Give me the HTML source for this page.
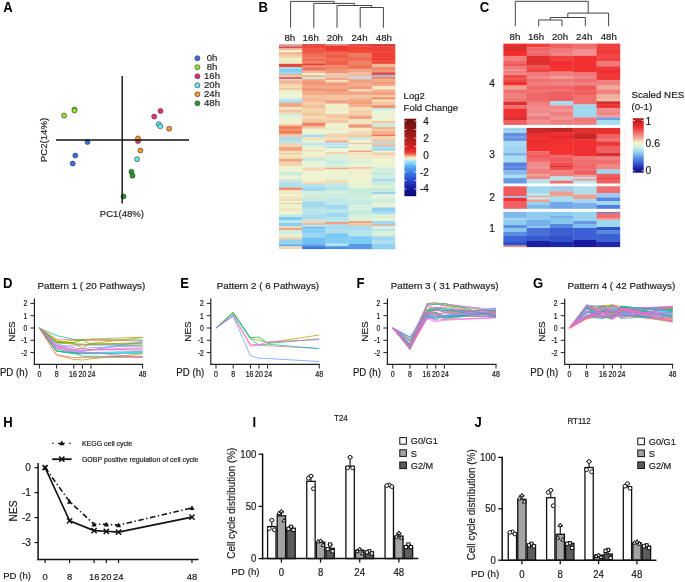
<!DOCTYPE html>
<html><head><meta charset="utf-8"><style>
html,body{margin:0;padding:0;background:#fff;}
svg{display:block;font-family:"Liberation Sans",sans-serif;will-change:transform;}
</style></head><body>
<svg width="685" height="582" viewBox="0 0 685 582">
<rect width="685" height="582" fill="#fff"/>
<text transform="translate(3.20,12.20) scale(0.97,1.15)" font-size="13.5" text-anchor="start" font-weight="bold" fill="#000" >A</text>
<text transform="translate(258.40,12.20) scale(0.97,1.15)" font-size="13.5" text-anchor="start" font-weight="bold" fill="#000" >B</text>
<text transform="translate(479.80,12.20) scale(0.97,1.15)" font-size="13.5" text-anchor="start" font-weight="bold" fill="#000" >C</text>
<text transform="translate(3.00,287.60) scale(0.97,1.15)" font-size="13.5" text-anchor="start" font-weight="bold" fill="#000" >D</text>
<text transform="translate(180.20,287.60) scale(0.97,1.15)" font-size="13.5" text-anchor="start" font-weight="bold" fill="#000" >E</text>
<text transform="translate(356.50,287.60) scale(0.97,1.15)" font-size="13.5" text-anchor="start" font-weight="bold" fill="#000" >F</text>
<text transform="translate(533.00,287.60) scale(0.97,1.15)" font-size="13.5" text-anchor="start" font-weight="bold" fill="#000" >G</text>
<text transform="translate(3.20,426.80) scale(0.97,1.15)" font-size="13.5" text-anchor="start" font-weight="bold" fill="#000" >H</text>
<text transform="translate(252.50,426.80) scale(0.97,1.15)" font-size="13.5" text-anchor="start" font-weight="bold" fill="#000" >I</text>
<text transform="translate(474.40,426.80) scale(0.97,1.15)" font-size="13.5" text-anchor="start" font-weight="bold" fill="#000" >J</text>
<circle cx="64.1" cy="115.6" r="2.5" fill="#8ee82a" stroke="#333" stroke-width="0.6"/>
<circle cx="74.5" cy="109.6" r="2.5" fill="#8ee82a" stroke="#333" stroke-width="0.6"/>
<circle cx="74.5" cy="110.6" r="2.5" fill="#8ee82a" stroke="#333" stroke-width="0.6"/>
<circle cx="87.5" cy="142" r="2.5" fill="#3a6fe0" stroke="#333" stroke-width="0.6"/>
<circle cx="75.3" cy="155.6" r="2.5" fill="#3a6fe0" stroke="#333" stroke-width="0.6"/>
<circle cx="72.7" cy="163.6" r="2.5" fill="#3a6fe0" stroke="#333" stroke-width="0.6"/>
<circle cx="160.5" cy="110.9" r="2.5" fill="#e8307a" stroke="#333" stroke-width="0.6"/>
<circle cx="154.2" cy="116.6" r="2.5" fill="#e8307a" stroke="#333" stroke-width="0.6"/>
<circle cx="158.7" cy="124.2" r="2.5" fill="#66e8f0" stroke="#333" stroke-width="0.6"/>
<circle cx="160.3" cy="126.3" r="2.5" fill="#66e8f0" stroke="#333" stroke-width="0.6"/>
<circle cx="169.2" cy="128.7" r="2.5" fill="#f09a30" stroke="#333" stroke-width="0.6"/>
<circle cx="138" cy="141.1" r="2.5" fill="#e8307a" stroke="#333" stroke-width="0.6"/>
<circle cx="138" cy="138.4" r="2.5" fill="#f09a30" stroke="#333" stroke-width="0.6"/>
<circle cx="140.4" cy="150.5" r="2.5" fill="#f09a30" stroke="#333" stroke-width="0.6"/>
<circle cx="137.1" cy="159.2" r="2.5" fill="#66e8f0" stroke="#333" stroke-width="0.6"/>
<circle cx="131.4" cy="171.8" r="2.5" fill="#2a9a2a" stroke="#333" stroke-width="0.6"/>
<circle cx="132.5" cy="175.7" r="2.5" fill="#2a9a2a" stroke="#333" stroke-width="0.6"/>
<circle cx="123.5" cy="196.4" r="2.5" fill="#2a9a2a" stroke="#333" stroke-width="0.6"/>
<line x1="56" y1="140" x2="189" y2="140" stroke="#111" stroke-width="1.4" />
<line x1="122.2" y1="76" x2="122.2" y2="203.6" stroke="#111" stroke-width="1.4" />
<circle cx="197.4" cy="58.2" r="2.5" fill="#3a6fe0" stroke="#333" stroke-width="0.6"/>
<text transform="translate(212.00,60.80) scale(1.0,0.95)" font-size="9.6" text-anchor="middle" font-weight="normal" fill="#222" stroke="#222" stroke-width="0.18" >0h</text>
<circle cx="197.4" cy="67.2" r="2.5" fill="#8ee82a" stroke="#333" stroke-width="0.6"/>
<text transform="translate(212.00,69.83) scale(1.0,0.95)" font-size="9.6" text-anchor="middle" font-weight="normal" fill="#222" stroke="#222" stroke-width="0.18" >8h</text>
<circle cx="197.4" cy="76.3" r="2.5" fill="#e8307a" stroke="#333" stroke-width="0.6"/>
<text transform="translate(212.00,78.86) scale(1.0,0.95)" font-size="9.6" text-anchor="middle" font-weight="normal" fill="#222" stroke="#222" stroke-width="0.18" >16h</text>
<circle cx="197.4" cy="85.3" r="2.5" fill="#66e8f0" stroke="#333" stroke-width="0.6"/>
<text transform="translate(212.00,87.89) scale(1.0,0.95)" font-size="9.6" text-anchor="middle" font-weight="normal" fill="#222" stroke="#222" stroke-width="0.18" >20h</text>
<circle cx="197.4" cy="94.3" r="2.5" fill="#f09a30" stroke="#333" stroke-width="0.6"/>
<text transform="translate(212.00,96.92) scale(1.0,0.95)" font-size="9.6" text-anchor="middle" font-weight="normal" fill="#222" stroke="#222" stroke-width="0.18" >24h</text>
<circle cx="197.4" cy="103.3" r="2.5" fill="#2a9a2a" stroke="#333" stroke-width="0.6"/>
<text transform="translate(212.00,105.95) scale(1.0,0.95)" font-size="9.6" text-anchor="middle" font-weight="normal" fill="#222" stroke="#222" stroke-width="0.18" >48h</text>
<text transform="translate(121.90,216.50)" font-size="9.6" text-anchor="middle" font-weight="normal" fill="#222" stroke="#222" stroke-width="0.18" >PC1(48%)</text>
<text transform="translate(46.60,140.00) rotate(-90)" font-size="9.6" text-anchor="middle" font-weight="normal" fill="#222" stroke="#222" stroke-width="0.18" >PC2(14%)</text>
<path d="M360.2,27.7 L360.2,7.5 M360.2,7.5 L383.4,7.5 M383.4,7.5 L383.4,27.7 M337.0,27.7 L337.0,5.5 M337.0,5.5 L371.79999999999995,5.5 M371.79999999999995,5.5 L371.79999999999995,7.5 M313.8,27.7 L313.8,3.4 M313.8,3.4 L354.4,3.4 M354.4,3.4 L354.4,5.5 M290.6,27.7 L290.6,1.4 M290.6,1.4 L334.1,1.4 M334.1,1.4 L334.1,3.4" stroke="#444" stroke-width="1" fill="none"/>
<text transform="translate(289.80,41.00)" font-size="9.7" text-anchor="middle" font-weight="normal" fill="#1a1a1a" stroke="#1a1a1a" stroke-width="0.18" >8h</text>
<text transform="translate(310.70,41.00)" font-size="9.7" text-anchor="middle" font-weight="normal" fill="#1a1a1a" stroke="#1a1a1a" stroke-width="0.18" >16h</text>
<text transform="translate(334.90,41.00)" font-size="9.7" text-anchor="middle" font-weight="normal" fill="#1a1a1a" stroke="#1a1a1a" stroke-width="0.18" >20h</text>
<text transform="translate(359.50,41.00)" font-size="9.7" text-anchor="middle" font-weight="normal" fill="#1a1a1a" stroke="#1a1a1a" stroke-width="0.18" >24h</text>
<text transform="translate(383.90,41.00)" font-size="9.7" text-anchor="middle" font-weight="normal" fill="#1a1a1a" stroke="#1a1a1a" stroke-width="0.18" >48h</text>
<path d="M538.7,26.3 L538.7,20 M538.7,20 L562.0,20 M562.0,20 L562.0,26.3 M550.35,20 L550.35,17.5 M550.35,17.5 L585.3,17.5 M585.3,17.5 L585.3,26.3 M567.825,17.5 L567.825,13.1 M567.825,13.1 L608.6,13.1 M608.6,13.1 L608.6,26.3 M588.2125000000001,13.1 L588.2125000000001,1.3 M515.3,1.3 L588.2125000000001,1.3 M515.3,1.3 L515.3,26.3" stroke="#444" stroke-width="1" fill="none"/>
<text transform="translate(514.90,40.20)" font-size="9.7" text-anchor="middle" font-weight="normal" fill="#1a1a1a" stroke="#1a1a1a" stroke-width="0.18" >8h</text>
<text transform="translate(536.00,40.20)" font-size="9.7" text-anchor="middle" font-weight="normal" fill="#1a1a1a" stroke="#1a1a1a" stroke-width="0.18" >16h</text>
<text transform="translate(560.00,40.20)" font-size="9.7" text-anchor="middle" font-weight="normal" fill="#1a1a1a" stroke="#1a1a1a" stroke-width="0.18" >20h</text>
<text transform="translate(584.20,40.20)" font-size="9.7" text-anchor="middle" font-weight="normal" fill="#1a1a1a" stroke="#1a1a1a" stroke-width="0.18" >24h</text>
<text transform="translate(608.80,40.20)" font-size="9.7" text-anchor="middle" font-weight="normal" fill="#1a1a1a" stroke="#1a1a1a" stroke-width="0.18" >48h</text>
<rect x="279.00" y="44.1" width="23.50" height="1.40" fill="#f0a0a0"/>
<rect x="279.00" y="45.2" width="23.50" height="1.90" fill="#b89aa8"/>
<rect x="279.00" y="46.8" width="23.50" height="1.70" fill="#e8483a"/>
<rect x="279.00" y="48.2" width="23.50" height="2.10" fill="#f4b494"/>
<rect x="279.00" y="50" width="23.50" height="2.60" fill="#eef2d0"/>
<rect x="279.00" y="52.3" width="23.50" height="2.00" fill="#f2ae8c"/>
<rect x="279.00" y="54" width="23.50" height="2.30" fill="#f4c8a0"/>
<rect x="279.00" y="56" width="23.50" height="2.30" fill="#f4d8ac"/>
<rect x="279.00" y="58" width="23.50" height="2.80" fill="#ecf0cc"/>
<rect x="279.00" y="60.5" width="23.50" height="1.80" fill="#f0e4c0"/>
<rect x="279.00" y="62" width="23.50" height="2.10" fill="#eaf0cc"/>
<rect x="279.00" y="63.8" width="23.50" height="3.60" fill="#e84838"/>
<rect x="279.00" y="67.1" width="23.50" height="1.70" fill="#a8dcf0"/>
<rect x="279.00" y="68.5" width="23.50" height="3.80" fill="#88d0f0"/>
<rect x="279.00" y="72" width="23.50" height="2.30" fill="#9cd8f0"/>
<rect x="279.00" y="74" width="23.50" height="1.90" fill="#f0b090"/>
<rect x="279.00" y="75.6" width="23.50" height="1.90" fill="#dcd4c0"/>
<rect x="279.00" y="77.2" width="23.50" height="1.90" fill="#e84838"/>
<rect x="279.00" y="78.8" width="23.50" height="1.90" fill="#d0dcd8"/>
<rect x="279.00" y="80.4" width="23.50" height="2.90" fill="#f2b494"/>
<rect x="279.00" y="83" width="23.50" height="2.50" fill="#f4c8a4"/>
<rect x="279.00" y="85.2" width="23.50" height="3.10" fill="#f4dcb0"/>
<rect x="279.00" y="88" width="23.50" height="2.70" fill="#f2c8a0"/>
<rect x="279.00" y="90.4" width="23.50" height="4.90" fill="#eaf4d4"/>
<rect x="279.00" y="95" width="23.50" height="3.70" fill="#eef4d4"/>
<rect x="279.00" y="98.4" width="23.50" height="2.40" fill="#c0e8e8"/>
<rect x="279.00" y="100.5" width="23.50" height="2.60" fill="#a8dcf0"/>
<rect x="279.00" y="102.8" width="23.50" height="4.50" fill="#f2a884"/>
<rect x="279.00" y="107" width="23.50" height="2.90" fill="#f0e8c0"/>
<rect x="279.00" y="109.6" width="23.50" height="2.70" fill="#f4c4a0"/>
<rect x="279.00" y="112" width="23.50" height="2.30" fill="#f4d4b0"/>
<rect x="279.00" y="114" width="23.50" height="3.30" fill="#d4f0e0"/>
<rect x="279.00" y="117" width="23.50" height="4.10" fill="#eef2d0"/>
<rect x="279.00" y="120.8" width="23.50" height="3.80" fill="#f0f0cc"/>
<rect x="279.00" y="124.3" width="23.50" height="2.00" fill="#f4c4a0"/>
<rect x="279.00" y="126" width="23.50" height="3.30" fill="#f08060"/>
<rect x="279.00" y="129" width="23.50" height="2.30" fill="#f2946e"/>
<rect x="279.00" y="131" width="23.50" height="3.10" fill="#f07a5c"/>
<rect x="279.00" y="133.8" width="23.50" height="3.70" fill="#f4c8a4"/>
<rect x="279.00" y="137.2" width="23.50" height="3.10" fill="#a8dcec"/>
<rect x="279.00" y="140" width="23.50" height="3.50" fill="#b8e4ec"/>
<rect x="279.00" y="143.2" width="23.50" height="4.10" fill="#f4d4b0"/>
<rect x="279.00" y="147" width="23.50" height="4.10" fill="#f2a480"/>
<rect x="279.00" y="150.8" width="23.50" height="2.50" fill="#f4e0b8"/>
<rect x="279.00" y="153" width="23.50" height="2.30" fill="#f4d0a8"/>
<rect x="279.00" y="155" width="23.50" height="2.30" fill="#f0ecc4"/>
<rect x="279.00" y="157" width="23.50" height="2.30" fill="#f4d4ac"/>
<rect x="279.00" y="159" width="23.50" height="2.90" fill="#f2a484"/>
<rect x="279.00" y="161.6" width="23.50" height="4.70" fill="#f4d4b0"/>
<rect x="279.00" y="166" width="23.50" height="6.30" fill="#eef4d0"/>
<rect x="279.00" y="172" width="23.50" height="3.70" fill="#c8ecdc"/>
<rect x="279.00" y="175.4" width="23.50" height="4.60" fill="#eef2d0"/>
<rect x="279.00" y="179.7" width="23.50" height="3.60" fill="#c0e6e8"/>
<rect x="279.00" y="183" width="23.50" height="4.80" fill="#b0e0ee"/>
<rect x="279.00" y="187.5" width="23.50" height="2.80" fill="#f29070"/>
<rect x="279.00" y="190" width="23.50" height="4.30" fill="#f2e8c4"/>
<rect x="279.00" y="194" width="23.50" height="3.30" fill="#eef2d0"/>
<rect x="279.00" y="197" width="23.50" height="1.30" fill="#f4dcb4"/>
<rect x="279.00" y="198" width="23.50" height="1.80" fill="#f0ecc8"/>
<rect x="279.00" y="199.5" width="23.50" height="1.40" fill="#f4c8a0"/>
<rect x="279.00" y="200.6" width="23.50" height="2.70" fill="#eef4d0"/>
<rect x="279.00" y="203" width="23.50" height="1.30" fill="#f4c8a0"/>
<rect x="279.00" y="204" width="23.50" height="4.30" fill="#eef4d0"/>
<rect x="279.00" y="208" width="23.50" height="3.30" fill="#f0e8c4"/>
<rect x="279.00" y="211" width="23.50" height="3.70" fill="#eef4d0"/>
<rect x="279.00" y="214.4" width="23.50" height="2.90" fill="#c0e8e8"/>
<rect x="279.00" y="217" width="23.50" height="3.70" fill="#80ccf0"/>
<rect x="279.00" y="220.4" width="23.50" height="2.90" fill="#c0e8e8"/>
<rect x="279.00" y="223" width="23.50" height="3.70" fill="#88d0f0"/>
<rect x="279.00" y="226.4" width="23.50" height="2.00" fill="#f2dcb8"/>
<rect x="279.00" y="228.1" width="23.50" height="2.10" fill="#f29a78"/>
<rect x="279.00" y="229.9" width="23.50" height="4.40" fill="#d0ecdc"/>
<rect x="279.00" y="234" width="23.50" height="3.90" fill="#e8f0d0"/>
<rect x="279.00" y="237.6" width="23.50" height="2.00" fill="#f4c8a0"/>
<rect x="279.00" y="239.3" width="23.50" height="5.50" fill="#98d4f0"/>
<rect x="279.00" y="244.5" width="23.50" height="2.00" fill="#60a8e8"/>
<rect x="279.00" y="246.2" width="23.50" height="2.90" fill="#f0d8b8"/>
<rect x="302.20" y="44.1" width="23.50" height="1.80" fill="#d84040"/>
<rect x="302.20" y="45.6" width="23.50" height="2.70" fill="#ee4838"/>
<rect x="302.20" y="48" width="23.50" height="1.80" fill="#f05a48"/>
<rect x="302.20" y="49.5" width="23.50" height="2.40" fill="#ee4838"/>
<rect x="302.20" y="51.6" width="23.50" height="2.70" fill="#f06050"/>
<rect x="302.20" y="54" width="23.50" height="3.10" fill="#f07258"/>
<rect x="302.20" y="56.8" width="23.50" height="2.50" fill="#f07a60"/>
<rect x="302.20" y="59" width="23.50" height="2.80" fill="#f06a54"/>
<rect x="302.20" y="61.5" width="23.50" height="2.50" fill="#f08266"/>
<rect x="302.20" y="63.7" width="23.50" height="2.00" fill="#e83c30"/>
<rect x="302.20" y="65.4" width="23.50" height="2.40" fill="#f08a6c"/>
<rect x="302.20" y="67.5" width="23.50" height="3.40" fill="#f07060"/>
<rect x="302.20" y="70.6" width="23.50" height="2.80" fill="#f4b898"/>
<rect x="302.20" y="73.1" width="23.50" height="2.20" fill="#eef0d0"/>
<rect x="302.20" y="75" width="23.50" height="2.70" fill="#f4b898"/>
<rect x="302.20" y="77.4" width="23.50" height="2.10" fill="#c8ecdc"/>
<rect x="302.20" y="79.2" width="23.50" height="3.10" fill="#f2a080"/>
<rect x="302.20" y="82" width="23.50" height="3.30" fill="#f2946e"/>
<rect x="302.20" y="85" width="23.50" height="3.30" fill="#f2a888"/>
<rect x="302.20" y="88" width="23.50" height="3.30" fill="#f29878"/>
<rect x="302.20" y="91" width="23.50" height="4.30" fill="#f2ac8c"/>
<rect x="302.20" y="95" width="23.50" height="3.30" fill="#f4c4a0"/>
<rect x="302.20" y="98" width="23.50" height="4.20" fill="#f4b898"/>
<rect x="302.20" y="101.9" width="23.50" height="3.40" fill="#f4d0a8"/>
<rect x="302.20" y="105" width="23.50" height="3.30" fill="#f4c09c"/>
<rect x="302.20" y="108" width="23.50" height="4.50" fill="#f4d4ac"/>
<rect x="302.20" y="112.2" width="23.50" height="4.10" fill="#f4c8a0"/>
<rect x="302.20" y="116" width="23.50" height="3.30" fill="#f4dcb4"/>
<rect x="302.20" y="119" width="23.50" height="3.90" fill="#f4c8a0"/>
<rect x="302.20" y="122.6" width="23.50" height="3.70" fill="#f08868"/>
<rect x="302.20" y="126" width="23.50" height="2.90" fill="#f4c4a0"/>
<rect x="302.20" y="128.6" width="23.50" height="6.30" fill="#eef4d0"/>
<rect x="302.20" y="134.6" width="23.50" height="2.90" fill="#a8dcf0"/>
<rect x="302.20" y="137.2" width="23.50" height="3.10" fill="#f0e0bc"/>
<rect x="302.20" y="140" width="23.50" height="2.70" fill="#eef0d0"/>
<rect x="302.20" y="142.4" width="23.50" height="2.90" fill="#c0e4e8"/>
<rect x="302.20" y="145" width="23.50" height="2.30" fill="#d4eee0"/>
<rect x="302.20" y="147" width="23.50" height="3.30" fill="#eef2d0"/>
<rect x="302.20" y="150" width="23.50" height="1.80" fill="#f4dcb4"/>
<rect x="302.20" y="151.5" width="23.50" height="3.80" fill="#eef2d0"/>
<rect x="302.20" y="155" width="23.50" height="3.50" fill="#f0ecc8"/>
<rect x="302.20" y="158.2" width="23.50" height="2.90" fill="#c0e8e4"/>
<rect x="302.20" y="160.8" width="23.50" height="7.20" fill="#e8f4d8"/>
<rect x="302.20" y="167.7" width="23.50" height="3.70" fill="#f4dcb4"/>
<rect x="302.20" y="171.1" width="23.50" height="10.70" fill="#eef4d4"/>
<rect x="302.20" y="181.5" width="23.50" height="2.80" fill="#f4dcb4"/>
<rect x="302.20" y="184" width="23.50" height="3.30" fill="#b8e2ea"/>
<rect x="302.20" y="187" width="23.50" height="4.30" fill="#a0d8f0"/>
<rect x="302.20" y="191" width="23.50" height="7.30" fill="#d4eee0"/>
<rect x="302.20" y="198" width="23.50" height="3.70" fill="#c8ecdc"/>
<rect x="302.20" y="201.4" width="23.50" height="6.40" fill="#a0d8f0"/>
<rect x="302.20" y="207.5" width="23.50" height="7.20" fill="#b8e4ec"/>
<rect x="302.20" y="214.4" width="23.50" height="5.40" fill="#a8dcf0"/>
<rect x="302.20" y="219.5" width="23.50" height="3.80" fill="#e0dcc8"/>
<rect x="302.20" y="223" width="23.50" height="2.00" fill="#f4b898"/>
<rect x="302.20" y="224.7" width="23.50" height="2.90" fill="#b8e4ec"/>
<rect x="302.20" y="227.3" width="23.50" height="1.30" fill="#5098e8"/>
<rect x="302.20" y="228.3" width="23.50" height="5.00" fill="#88cff4"/>
<rect x="302.20" y="233" width="23.50" height="4.90" fill="#98d6f2"/>
<rect x="302.20" y="237.6" width="23.50" height="7.20" fill="#70c0f4"/>
<rect x="302.20" y="244.5" width="23.50" height="2.00" fill="#5ca0ec"/>
<rect x="302.20" y="246.2" width="23.50" height="2.90" fill="#3878e0"/>
<rect x="325.40" y="44.1" width="23.50" height="1.80" fill="#d09090"/>
<rect x="325.40" y="45.6" width="23.50" height="6.30" fill="#f03830"/>
<rect x="325.40" y="51.6" width="23.50" height="3.70" fill="#f06850"/>
<rect x="325.40" y="55" width="23.50" height="3.30" fill="#f05a46"/>
<rect x="325.40" y="58" width="23.50" height="3.30" fill="#f06e56"/>
<rect x="325.40" y="61" width="23.50" height="4.70" fill="#f06048"/>
<rect x="325.40" y="65.4" width="23.50" height="3.90" fill="#f08468"/>
<rect x="325.40" y="69" width="23.50" height="4.40" fill="#f09474"/>
<rect x="325.40" y="73.1" width="23.50" height="4.60" fill="#e8c8b0"/>
<rect x="325.40" y="77.4" width="23.50" height="2.90" fill="#f2a888"/>
<rect x="325.40" y="80" width="23.50" height="2.60" fill="#f4e0b8"/>
<rect x="325.40" y="82.3" width="23.50" height="4.00" fill="#f29a7c"/>
<rect x="325.40" y="86" width="23.50" height="3.30" fill="#f2a888"/>
<rect x="325.40" y="89" width="23.50" height="3.30" fill="#f29676"/>
<rect x="325.40" y="92" width="23.50" height="3.30" fill="#f2aa8a"/>
<rect x="325.40" y="95" width="23.50" height="5.50" fill="#f4c4a0"/>
<rect x="325.40" y="100.2" width="23.50" height="3.70" fill="#f2a080"/>
<rect x="325.40" y="103.6" width="23.50" height="4.70" fill="#f0f0cc"/>
<rect x="325.40" y="108" width="23.50" height="2.30" fill="#f4e8c0"/>
<rect x="325.40" y="110" width="23.50" height="4.30" fill="#eef2cc"/>
<rect x="325.40" y="114" width="23.50" height="4.30" fill="#f4c8a4"/>
<rect x="325.40" y="118" width="23.50" height="2.30" fill="#f4d4ac"/>
<rect x="325.40" y="120" width="23.50" height="3.70" fill="#f4c8a4"/>
<rect x="325.40" y="123.4" width="23.50" height="4.90" fill="#eef4d0"/>
<rect x="325.40" y="128" width="23.50" height="2.30" fill="#f0eccc"/>
<rect x="325.40" y="130" width="23.50" height="4.10" fill="#eef4d0"/>
<rect x="325.40" y="133.8" width="23.50" height="3.50" fill="#f4d0b0"/>
<rect x="325.40" y="137" width="23.50" height="3.90" fill="#f4dcb8"/>
<rect x="325.40" y="140.6" width="23.50" height="2.10" fill="#f2a888"/>
<rect x="325.40" y="142.4" width="23.50" height="2.90" fill="#b8e4ec"/>
<rect x="325.40" y="145" width="23.50" height="2.30" fill="#c8ecec"/>
<rect x="325.40" y="147" width="23.50" height="1.30" fill="#a0d8f0"/>
<rect x="325.40" y="148" width="23.50" height="4.30" fill="#eef4d4"/>
<rect x="325.40" y="152" width="23.50" height="2.30" fill="#f4d4ac"/>
<rect x="325.40" y="154" width="23.50" height="6.30" fill="#d8f0dc"/>
<rect x="325.40" y="160" width="23.50" height="4.30" fill="#cceee4"/>
<rect x="325.40" y="164" width="23.50" height="4.00" fill="#d8f0dc"/>
<rect x="325.40" y="167.7" width="23.50" height="2.00" fill="#f2a888"/>
<rect x="325.40" y="169.4" width="23.50" height="5.90" fill="#eef4d0"/>
<rect x="325.40" y="175" width="23.50" height="5.00" fill="#e8f4d4"/>
<rect x="325.40" y="179.7" width="23.50" height="3.80" fill="#f4dcb8"/>
<rect x="325.40" y="183.2" width="23.50" height="4.10" fill="#c0e8e4"/>
<rect x="325.40" y="187" width="23.50" height="3.30" fill="#b4e2ea"/>
<rect x="325.40" y="190" width="23.50" height="8.30" fill="#d0ecdc"/>
<rect x="325.40" y="198" width="23.50" height="7.30" fill="#c0e8e8"/>
<rect x="325.40" y="205" width="23.50" height="4.30" fill="#a0d8f0"/>
<rect x="325.40" y="209" width="23.50" height="4.30" fill="#b8e4ec"/>
<rect x="325.40" y="213" width="23.50" height="4.30" fill="#a0d8f0"/>
<rect x="325.40" y="217" width="23.50" height="5.30" fill="#b8e4ec"/>
<rect x="325.40" y="222" width="23.50" height="2.60" fill="#f0a080"/>
<rect x="325.40" y="224.3" width="23.50" height="5.00" fill="#a8dcf0"/>
<rect x="325.40" y="229" width="23.50" height="4.60" fill="#b4e0ee"/>
<rect x="325.40" y="233.3" width="23.50" height="3.80" fill="#78c8f4"/>
<rect x="325.40" y="236.8" width="23.50" height="7.10" fill="#80ccf4"/>
<rect x="325.40" y="243.6" width="23.50" height="2.90" fill="#b8e4ec"/>
<rect x="325.40" y="246.2" width="23.50" height="2.90" fill="#4c90e8"/>
<rect x="348.60" y="44.1" width="23.50" height="2.60" fill="#e84040"/>
<rect x="348.60" y="46.4" width="23.50" height="3.90" fill="#f04434"/>
<rect x="348.60" y="50" width="23.50" height="3.60" fill="#f04a3a"/>
<rect x="348.60" y="53.3" width="23.50" height="4.00" fill="#f07a60"/>
<rect x="348.60" y="57" width="23.50" height="4.30" fill="#f06a54"/>
<rect x="348.60" y="61" width="23.50" height="4.30" fill="#f08468"/>
<rect x="348.60" y="65" width="23.50" height="4.10" fill="#f07258"/>
<rect x="348.60" y="68.8" width="23.50" height="3.80" fill="#f2a486"/>
<rect x="348.60" y="72.3" width="23.50" height="4.60" fill="#f4bc9c"/>
<rect x="348.60" y="76.6" width="23.50" height="2.90" fill="#c8d8e0"/>
<rect x="348.60" y="79.2" width="23.50" height="4.10" fill="#f2a080"/>
<rect x="348.60" y="83" width="23.50" height="3.30" fill="#f2b090"/>
<rect x="348.60" y="86" width="23.50" height="3.80" fill="#f29c7c"/>
<rect x="348.60" y="89.5" width="23.50" height="2.00" fill="#f4e4c0"/>
<rect x="348.60" y="91.2" width="23.50" height="4.10" fill="#f2a888"/>
<rect x="348.60" y="95" width="23.50" height="3.70" fill="#f4c4a0"/>
<rect x="348.60" y="98.4" width="23.50" height="3.90" fill="#f2a884"/>
<rect x="348.60" y="102" width="23.50" height="2.30" fill="#f29c7c"/>
<rect x="348.60" y="104" width="23.50" height="3.30" fill="#f2b08c"/>
<rect x="348.60" y="107" width="23.50" height="4.30" fill="#f4dcb4"/>
<rect x="348.60" y="111" width="23.50" height="5.00" fill="#f4d0a8"/>
<rect x="348.60" y="115.7" width="23.50" height="3.70" fill="#f2a484"/>
<rect x="348.60" y="119.1" width="23.50" height="5.50" fill="#f0e8c4"/>
<rect x="348.60" y="124.3" width="23.50" height="3.70" fill="#f09878"/>
<rect x="348.60" y="127.7" width="23.50" height="3.60" fill="#f0ecc8"/>
<rect x="348.60" y="131" width="23.50" height="3.90" fill="#f4dcb4"/>
<rect x="348.60" y="134.6" width="23.50" height="2.70" fill="#f4c8a4"/>
<rect x="348.60" y="137" width="23.50" height="3.10" fill="#c8e8e0"/>
<rect x="348.60" y="139.8" width="23.50" height="0.50" fill="#d8eedc"/>
<rect x="348.60" y="140" width="23.50" height="3.10" fill="#eef2d0"/>
<rect x="348.60" y="142.8" width="23.50" height="1.40" fill="#f4c09c"/>
<rect x="348.60" y="143.9" width="23.50" height="7.00" fill="#eef2d0"/>
<rect x="348.60" y="150.6" width="23.50" height="1.70" fill="#f2a080"/>
<rect x="348.60" y="152" width="23.50" height="3.30" fill="#f4e4c0"/>
<rect x="348.60" y="155" width="23.50" height="4.60" fill="#f0ecc8"/>
<rect x="348.60" y="159.3" width="23.50" height="4.00" fill="#dcf0dc"/>
<rect x="348.60" y="163" width="23.50" height="4.30" fill="#e8f2d4"/>
<rect x="348.60" y="167" width="23.50" height="2.20" fill="#f4c8a4"/>
<rect x="348.60" y="168.9" width="23.50" height="8.00" fill="#f0eecc"/>
<rect x="348.60" y="176.6" width="23.50" height="5.70" fill="#eef4d0"/>
<rect x="348.60" y="182" width="23.50" height="6.50" fill="#e8f2d4"/>
<rect x="348.60" y="188.2" width="23.50" height="8.00" fill="#c8ecdc"/>
<rect x="348.60" y="195.9" width="23.50" height="4.40" fill="#d0eedc"/>
<rect x="348.60" y="200" width="23.50" height="5.30" fill="#c4eae4"/>
<rect x="348.60" y="205" width="23.50" height="5.30" fill="#d8f0dc"/>
<rect x="348.60" y="210" width="23.50" height="5.30" fill="#c8ecdc"/>
<rect x="348.60" y="215" width="23.50" height="6.30" fill="#d8f0dc"/>
<rect x="348.60" y="221" width="23.50" height="2.50" fill="#f2a482"/>
<rect x="348.60" y="223.2" width="23.50" height="2.80" fill="#f4c8a4"/>
<rect x="348.60" y="225.7" width="23.50" height="4.60" fill="#a8dcf0"/>
<rect x="348.60" y="230" width="23.50" height="6.60" fill="#b8e4ec"/>
<rect x="348.60" y="236.3" width="23.50" height="8.00" fill="#80ccf4"/>
<rect x="348.60" y="244" width="23.50" height="5.10" fill="#5898e8"/>
<rect x="348.60" y="248.8" width="23.50" height="0.30" fill="#5898e8"/>
<rect x="371.80" y="44.1" width="23.50" height="2.60" fill="#d03838"/>
<rect x="371.80" y="46.4" width="23.50" height="4.90" fill="#ee4034"/>
<rect x="371.80" y="51" width="23.50" height="2.30" fill="#f04a3c"/>
<rect x="371.80" y="53" width="23.50" height="4.90" fill="#ee4034"/>
<rect x="371.80" y="57.6" width="23.50" height="2.70" fill="#f03c30"/>
<rect x="371.80" y="60" width="23.50" height="1.80" fill="#f05040"/>
<rect x="371.80" y="61.5" width="23.50" height="2.50" fill="#f03c30"/>
<rect x="371.80" y="63.7" width="23.50" height="3.70" fill="#f4b898"/>
<rect x="371.80" y="67.1" width="23.50" height="3.20" fill="#f08a70"/>
<rect x="371.80" y="70" width="23.50" height="2.60" fill="#f09a7c"/>
<rect x="371.80" y="72.3" width="23.50" height="2.90" fill="#ec4838"/>
<rect x="371.80" y="74.9" width="23.50" height="2.00" fill="#90c8f0"/>
<rect x="371.80" y="76.6" width="23.50" height="2.90" fill="#f08a70"/>
<rect x="371.80" y="79.2" width="23.50" height="3.10" fill="#f2ac8c"/>
<rect x="371.80" y="82" width="23.50" height="2.30" fill="#f29c7c"/>
<rect x="371.80" y="84" width="23.50" height="2.30" fill="#f2ac8c"/>
<rect x="371.80" y="86" width="23.50" height="3.80" fill="#f4e8c0"/>
<rect x="371.80" y="89.5" width="23.50" height="2.80" fill="#f2b090"/>
<rect x="371.80" y="92" width="23.50" height="3.30" fill="#f2a080"/>
<rect x="371.80" y="95" width="23.50" height="2.90" fill="#f4c8a4"/>
<rect x="371.80" y="97.6" width="23.50" height="2.00" fill="#f08060"/>
<rect x="371.80" y="99.3" width="23.50" height="3.00" fill="#f4dcb0"/>
<rect x="371.80" y="102" width="23.50" height="3.60" fill="#f4c8a0"/>
<rect x="371.80" y="105.3" width="23.50" height="2.90" fill="#f08a6c"/>
<rect x="371.80" y="107.9" width="23.50" height="2.90" fill="#c8ecec"/>
<rect x="371.80" y="110.5" width="23.50" height="3.80" fill="#eef4d0"/>
<rect x="371.80" y="114" width="23.50" height="3.30" fill="#e8f2d8"/>
<rect x="371.80" y="117" width="23.50" height="4.10" fill="#eef4d0"/>
<rect x="371.80" y="120.8" width="23.50" height="2.90" fill="#f4c8a4"/>
<rect x="371.80" y="123.4" width="23.50" height="3.80" fill="#c8ecdc"/>
<rect x="371.80" y="126.9" width="23.50" height="2.40" fill="#f4b090"/>
<rect x="371.80" y="129" width="23.50" height="2.30" fill="#f4c8a4"/>
<rect x="371.80" y="131" width="23.50" height="3.90" fill="#f4b090"/>
<rect x="371.80" y="134.6" width="23.50" height="2.00" fill="#f07858"/>
<rect x="371.80" y="136.3" width="23.50" height="2.50" fill="#f4dcb4"/>
<rect x="371.80" y="138.5" width="23.50" height="1.80" fill="#f4c8a4"/>
<rect x="371.80" y="140" width="23.50" height="1.80" fill="#f4c4a0"/>
<rect x="371.80" y="141.5" width="23.50" height="1.80" fill="#a8dcf0"/>
<rect x="371.80" y="143" width="23.50" height="2.50" fill="#f4c8a0"/>
<rect x="371.80" y="145.2" width="23.50" height="0.90" fill="#f2a080"/>
<rect x="371.80" y="145.8" width="23.50" height="3.20" fill="#b0e0ec"/>
<rect x="371.80" y="148.7" width="23.50" height="2.20" fill="#98d4f0"/>
<rect x="371.80" y="150.6" width="23.50" height="2.20" fill="#eef2d0"/>
<rect x="371.80" y="152.5" width="23.50" height="3.20" fill="#f4d0a8"/>
<rect x="371.80" y="155.4" width="23.50" height="3.20" fill="#f0e8c4"/>
<rect x="371.80" y="158.3" width="23.50" height="9.00" fill="#eef4d0"/>
<rect x="371.80" y="167" width="23.50" height="5.30" fill="#d4eee0"/>
<rect x="371.80" y="172" width="23.50" height="3.30" fill="#c8ecdc"/>
<rect x="371.80" y="175" width="23.50" height="3.80" fill="#d4eee0"/>
<rect x="371.80" y="178.5" width="23.50" height="3.20" fill="#a8dcf0"/>
<rect x="371.80" y="181.4" width="23.50" height="3.90" fill="#c8ecdc"/>
<rect x="371.80" y="185" width="23.50" height="3.30" fill="#e0f2d8"/>
<rect x="371.80" y="188" width="23.50" height="4.30" fill="#c8ecdc"/>
<rect x="371.80" y="192" width="23.50" height="2.30" fill="#98d4f0"/>
<rect x="371.80" y="194" width="23.50" height="5.30" fill="#e0f2d8"/>
<rect x="371.80" y="199" width="23.50" height="4.30" fill="#d0eedc"/>
<rect x="371.80" y="203" width="23.50" height="4.70" fill="#e8f2d4"/>
<rect x="371.80" y="207.4" width="23.50" height="3.90" fill="#90d0f0"/>
<rect x="371.80" y="211" width="23.50" height="3.50" fill="#a8dcf0"/>
<rect x="371.80" y="214.2" width="23.50" height="4.10" fill="#d8f0dc"/>
<rect x="371.80" y="218" width="23.50" height="3.30" fill="#e8f2d4"/>
<rect x="371.80" y="221" width="23.50" height="4.10" fill="#a0d8f0"/>
<rect x="371.80" y="224.8" width="23.50" height="1.20" fill="#f29070"/>
<rect x="371.80" y="225.7" width="23.50" height="3.60" fill="#d8f0dc"/>
<rect x="371.80" y="229" width="23.50" height="2.30" fill="#b8e4ec"/>
<rect x="371.80" y="231" width="23.50" height="5.60" fill="#d8f0dc"/>
<rect x="371.80" y="236.3" width="23.50" height="4.00" fill="#a0d8f0"/>
<rect x="371.80" y="240" width="23.50" height="4.30" fill="#b0e0ee"/>
<rect x="371.80" y="244" width="23.50" height="5.10" fill="#90d0f0"/>
<rect x="371.80" y="248.8" width="23.50" height="0.30" fill="#80c8f0"/>
<rect x="503.40" y="43.6" width="23.60" height="2.50" fill="#f03030"/>
<rect x="503.40" y="45.8" width="23.60" height="5.20" fill="#d83030"/>
<rect x="503.40" y="50.7" width="23.60" height="5.50" fill="#f42c2c"/>
<rect x="503.40" y="55.9" width="23.60" height="5.50" fill="#f08080"/>
<rect x="503.40" y="61.1" width="23.60" height="2.70" fill="#f06060"/>
<rect x="503.40" y="63.5" width="23.60" height="3.10" fill="#f05454"/>
<rect x="503.40" y="66.3" width="23.60" height="3.00" fill="#f07a7a"/>
<rect x="503.40" y="69" width="23.60" height="2.30" fill="#f09090"/>
<rect x="503.40" y="71" width="23.60" height="2.30" fill="#f07a7a"/>
<rect x="503.40" y="73" width="23.60" height="2.30" fill="#f08c8c"/>
<rect x="503.40" y="75" width="23.60" height="3.30" fill="#f04848"/>
<rect x="503.40" y="78" width="23.60" height="2.30" fill="#f05858"/>
<rect x="503.40" y="80" width="23.60" height="2.30" fill="#f04848"/>
<rect x="503.40" y="82" width="23.60" height="3.70" fill="#f03030"/>
<rect x="503.40" y="85.4" width="23.60" height="4.70" fill="#f0a090"/>
<rect x="503.40" y="89.8" width="23.60" height="3.50" fill="#f07070"/>
<rect x="503.40" y="93" width="23.60" height="1.30" fill="#f08080"/>
<rect x="503.40" y="94" width="23.60" height="4.30" fill="#f08080"/>
<rect x="503.40" y="98" width="23.60" height="4.10" fill="#f07878"/>
<rect x="503.40" y="101.8" width="23.60" height="3.80" fill="#d83030"/>
<rect x="503.40" y="105.3" width="23.60" height="3.80" fill="#f07070"/>
<rect x="503.40" y="108.8" width="23.60" height="8.10" fill="#f03030"/>
<rect x="503.40" y="116.6" width="23.60" height="3.70" fill="#d83030"/>
<rect x="503.40" y="120" width="23.60" height="8.20" fill="#f06060"/>
<rect x="503.40" y="127.9" width="23.60" height="5.40" fill="#a0d4f0"/>
<rect x="503.40" y="133" width="23.60" height="3.30" fill="#6890e0"/>
<rect x="503.40" y="136" width="23.60" height="2.30" fill="#7aa0e4"/>
<rect x="503.40" y="138" width="23.60" height="3.20" fill="#6890e0"/>
<rect x="503.40" y="140.9" width="23.60" height="5.40" fill="#a8dcf0"/>
<rect x="503.40" y="146" width="23.60" height="7.30" fill="#a0d4f0"/>
<rect x="503.40" y="153" width="23.60" height="2.90" fill="#80b0e8"/>
<rect x="503.40" y="155.6" width="23.60" height="7.20" fill="#a8dcf0"/>
<rect x="503.40" y="162.5" width="23.60" height="3.80" fill="#5880e0"/>
<rect x="503.40" y="166" width="23.60" height="2.30" fill="#6890e0"/>
<rect x="503.40" y="168" width="23.60" height="2.60" fill="#5880e0"/>
<rect x="503.40" y="170.3" width="23.60" height="4.70" fill="#88bcec"/>
<rect x="503.40" y="174.7" width="23.60" height="3.70" fill="#a8dcf0"/>
<rect x="503.40" y="178.1" width="23.60" height="8.50" fill="#6898e4"/>
<rect x="503.40" y="186.3" width="23.60" height="10.00" fill="#f05a5a"/>
<rect x="503.40" y="196" width="23.60" height="2.10" fill="#a0d0f0"/>
<rect x="503.40" y="197.8" width="23.60" height="4.00" fill="#f03030"/>
<rect x="503.40" y="201.5" width="23.60" height="10.80" fill="#f06060"/>
<rect x="503.40" y="212" width="23.60" height="6.30" fill="#80b8ec"/>
<rect x="503.40" y="218" width="23.60" height="1.80" fill="#a8dcf0"/>
<rect x="503.40" y="219.5" width="23.60" height="5.80" fill="#90ccf0"/>
<rect x="503.40" y="225" width="23.60" height="3.30" fill="#6090e0"/>
<rect x="503.40" y="228" width="23.60" height="4.30" fill="#88c8f0"/>
<rect x="503.40" y="232" width="23.60" height="4.30" fill="#5a8ce0"/>
<rect x="503.40" y="236" width="23.60" height="6.30" fill="#3c64d8"/>
<rect x="503.40" y="242" width="23.60" height="3.80" fill="#3050c8"/>
<rect x="503.40" y="245.5" width="23.60" height="1.60" fill="#f09080"/>
<rect x="526.70" y="43.6" width="23.60" height="3.90" fill="#f04040"/>
<rect x="526.70" y="47.2" width="23.60" height="4.10" fill="#f06868"/>
<rect x="526.70" y="51" width="23.60" height="2.30" fill="#f07474"/>
<rect x="526.70" y="53" width="23.60" height="3.20" fill="#f06868"/>
<rect x="526.70" y="55.9" width="23.60" height="4.40" fill="#e03030"/>
<rect x="526.70" y="60" width="23.60" height="2.30" fill="#d82c2c"/>
<rect x="526.70" y="62" width="23.60" height="3.80" fill="#e03030"/>
<rect x="526.70" y="65.5" width="23.60" height="3.80" fill="#f05050"/>
<rect x="526.70" y="69" width="23.60" height="3.70" fill="#f04444"/>
<rect x="526.70" y="72.4" width="23.60" height="3.90" fill="#f07878"/>
<rect x="526.70" y="76" width="23.60" height="3.30" fill="#f08888"/>
<rect x="526.70" y="79" width="23.60" height="3.30" fill="#f07070"/>
<rect x="526.70" y="82" width="23.60" height="3.70" fill="#f07c7c"/>
<rect x="526.70" y="85.4" width="23.60" height="4.90" fill="#f06868"/>
<rect x="526.70" y="90" width="23.60" height="3.30" fill="#f07474"/>
<rect x="526.70" y="93" width="23.60" height="1.30" fill="#f06060"/>
<rect x="526.70" y="94" width="23.60" height="8.10" fill="#f06868"/>
<rect x="526.70" y="101.8" width="23.60" height="3.50" fill="#f08080"/>
<rect x="526.70" y="105" width="23.60" height="4.90" fill="#f08a8a"/>
<rect x="526.70" y="109.6" width="23.60" height="3.70" fill="#f08888"/>
<rect x="526.70" y="113" width="23.60" height="3.30" fill="#f09a9a"/>
<rect x="526.70" y="116" width="23.60" height="4.30" fill="#f08080"/>
<rect x="526.70" y="120" width="23.60" height="8.20" fill="#f09090"/>
<rect x="526.70" y="127.9" width="23.60" height="5.40" fill="#c82828"/>
<rect x="526.70" y="133" width="23.60" height="4.30" fill="#e83030"/>
<rect x="526.70" y="137" width="23.60" height="4.30" fill="#f03030"/>
<rect x="526.70" y="141" width="23.60" height="2.30" fill="#e02c2c"/>
<rect x="526.70" y="143" width="23.60" height="3.30" fill="#f03030"/>
<rect x="526.70" y="146" width="23.60" height="5.50" fill="#f03030"/>
<rect x="526.70" y="151.2" width="23.60" height="4.10" fill="#f06868"/>
<rect x="526.70" y="155" width="23.60" height="3.30" fill="#f05a5a"/>
<rect x="526.70" y="158" width="23.60" height="3.90" fill="#f06868"/>
<rect x="526.70" y="161.6" width="23.60" height="4.70" fill="#f08888"/>
<rect x="526.70" y="166" width="23.60" height="3.30" fill="#f09090"/>
<rect x="526.70" y="169" width="23.60" height="5.10" fill="#f08080"/>
<rect x="526.70" y="173.8" width="23.60" height="2.50" fill="#f0a090"/>
<rect x="526.70" y="176" width="23.60" height="3.30" fill="#f08a8a"/>
<rect x="526.70" y="179" width="23.60" height="7.60" fill="#b8e0e8"/>
<rect x="526.70" y="186.3" width="23.60" height="7.00" fill="#a0d8f0"/>
<rect x="526.70" y="193" width="23.60" height="3.30" fill="#c0e4e8"/>
<rect x="526.70" y="196" width="23.60" height="1.30" fill="#f0a090"/>
<rect x="526.70" y="197" width="23.60" height="2.80" fill="#c0e4e8"/>
<rect x="526.70" y="199.5" width="23.60" height="2.80" fill="#f0a090"/>
<rect x="526.70" y="202" width="23.60" height="3.30" fill="#98d0f0"/>
<rect x="526.70" y="205" width="23.60" height="7.30" fill="#80b8ec"/>
<rect x="526.70" y="212" width="23.60" height="8.30" fill="#90ccf0"/>
<rect x="526.70" y="220" width="23.60" height="6.30" fill="#78b0ec"/>
<rect x="526.70" y="226" width="23.60" height="2.30" fill="#90ccf0"/>
<rect x="526.70" y="228" width="23.60" height="8.30" fill="#4870d8"/>
<rect x="526.70" y="236" width="23.60" height="5.30" fill="#3858d0"/>
<rect x="526.70" y="241" width="23.60" height="6.10" fill="#1a20a0"/>
<rect x="550.00" y="43.6" width="23.60" height="4.70" fill="#f06060"/>
<rect x="550.00" y="48" width="23.60" height="4.30" fill="#f07a7a"/>
<rect x="550.00" y="52" width="23.60" height="4.20" fill="#f08484"/>
<rect x="550.00" y="55.9" width="23.60" height="4.60" fill="#f04040"/>
<rect x="550.00" y="60.2" width="23.60" height="5.10" fill="#f03030"/>
<rect x="550.00" y="65" width="23.60" height="6.80" fill="#f43030"/>
<rect x="550.00" y="71.5" width="23.60" height="4.70" fill="#f08080"/>
<rect x="550.00" y="75.9" width="23.60" height="2.90" fill="#f0a090"/>
<rect x="550.00" y="78.5" width="23.60" height="3.80" fill="#f07878"/>
<rect x="550.00" y="82" width="23.60" height="3.70" fill="#f08484"/>
<rect x="550.00" y="85.4" width="23.60" height="3.90" fill="#f06666"/>
<rect x="550.00" y="89" width="23.60" height="3.30" fill="#f07070"/>
<rect x="550.00" y="92" width="23.60" height="2.30" fill="#f06060"/>
<rect x="550.00" y="94" width="23.60" height="7.30" fill="#f06060"/>
<rect x="550.00" y="101" width="23.60" height="4.60" fill="#a8dcf0"/>
<rect x="550.00" y="105.3" width="23.60" height="4.00" fill="#f08888"/>
<rect x="550.00" y="109" width="23.60" height="3.30" fill="#f09494"/>
<rect x="550.00" y="112" width="23.60" height="4.30" fill="#f08080"/>
<rect x="550.00" y="116" width="23.60" height="4.30" fill="#f09090"/>
<rect x="550.00" y="120" width="23.60" height="8.20" fill="#f08080"/>
<rect x="550.00" y="127.9" width="23.60" height="4.60" fill="#c02424"/>
<rect x="550.00" y="132.2" width="23.60" height="4.10" fill="#f02c2c"/>
<rect x="550.00" y="136" width="23.60" height="2.30" fill="#e02828"/>
<rect x="550.00" y="138" width="23.60" height="8.30" fill="#f03030"/>
<rect x="550.00" y="146" width="23.60" height="9.00" fill="#f43030"/>
<rect x="550.00" y="154.7" width="23.60" height="3.60" fill="#f06868"/>
<rect x="550.00" y="158" width="23.60" height="4.80" fill="#f05c5c"/>
<rect x="550.00" y="162.5" width="23.60" height="3.80" fill="#f05050"/>
<rect x="550.00" y="166" width="23.60" height="1.80" fill="#d83030"/>
<rect x="550.00" y="167.5" width="23.60" height="3.10" fill="#f05050"/>
<rect x="550.00" y="170.3" width="23.60" height="6.40" fill="#f08080"/>
<rect x="550.00" y="176.4" width="23.60" height="4.60" fill="#b8e4ec"/>
<rect x="550.00" y="180.7" width="23.60" height="5.90" fill="#f07070"/>
<rect x="550.00" y="186.3" width="23.60" height="5.20" fill="#a0d0f0"/>
<rect x="550.00" y="191.2" width="23.60" height="5.50" fill="#f0a090"/>
<rect x="550.00" y="196.4" width="23.60" height="5.90" fill="#a8dcf0"/>
<rect x="550.00" y="202" width="23.60" height="10.30" fill="#70a8e8"/>
<rect x="550.00" y="212" width="23.60" height="4.30" fill="#90ccf0"/>
<rect x="550.00" y="216" width="23.60" height="2.30" fill="#78b0ec"/>
<rect x="550.00" y="218" width="23.60" height="6.30" fill="#88c8f0"/>
<rect x="550.00" y="224" width="23.60" height="4.30" fill="#5888e0"/>
<rect x="550.00" y="228" width="23.60" height="8.30" fill="#3c60d4"/>
<rect x="550.00" y="236" width="23.60" height="6.30" fill="#3050c8"/>
<rect x="550.00" y="242" width="23.60" height="5.10" fill="#1c28a8"/>
<rect x="573.30" y="43.6" width="23.60" height="5.70" fill="#f07070"/>
<rect x="573.30" y="49" width="23.60" height="7.20" fill="#f09090"/>
<rect x="573.30" y="55.9" width="23.60" height="4.40" fill="#f03030"/>
<rect x="573.30" y="60" width="23.60" height="4.30" fill="#f43030"/>
<rect x="573.30" y="64" width="23.60" height="8.70" fill="#f03030"/>
<rect x="573.30" y="72.4" width="23.60" height="3.90" fill="#f07878"/>
<rect x="573.30" y="76" width="23.60" height="3.30" fill="#f08484"/>
<rect x="573.30" y="79" width="23.60" height="3.30" fill="#f07070"/>
<rect x="573.30" y="82" width="23.60" height="3.70" fill="#f08080"/>
<rect x="573.30" y="85.4" width="23.60" height="4.90" fill="#f05858"/>
<rect x="573.30" y="90" width="23.60" height="3.30" fill="#f06464"/>
<rect x="573.30" y="93" width="23.60" height="1.30" fill="#f05050"/>
<rect x="573.30" y="94" width="23.60" height="10.70" fill="#f07070"/>
<rect x="573.30" y="104.4" width="23.60" height="13.40" fill="#a0d8f0"/>
<rect x="573.30" y="117.5" width="23.60" height="3.80" fill="#f07878"/>
<rect x="573.30" y="121" width="23.60" height="7.20" fill="#f08080"/>
<rect x="573.30" y="127.9" width="23.60" height="6.40" fill="#e03030"/>
<rect x="573.30" y="134" width="23.60" height="5.50" fill="#c82828"/>
<rect x="573.30" y="139.2" width="23.60" height="7.10" fill="#f03030"/>
<rect x="573.30" y="146" width="23.60" height="10.70" fill="#f03030"/>
<rect x="573.30" y="156.4" width="23.60" height="3.90" fill="#f07878"/>
<rect x="573.30" y="160" width="23.60" height="3.70" fill="#f06c6c"/>
<rect x="573.30" y="163.4" width="23.60" height="4.90" fill="#f06868"/>
<rect x="573.30" y="168" width="23.60" height="3.30" fill="#f07070"/>
<rect x="573.30" y="171" width="23.60" height="4.00" fill="#f06060"/>
<rect x="573.30" y="174.7" width="23.60" height="2.60" fill="#f0a0a0"/>
<rect x="573.30" y="177" width="23.60" height="1.80" fill="#b8e0ea"/>
<rect x="573.30" y="178.5" width="23.60" height="2.50" fill="#f0a0a0"/>
<rect x="573.30" y="180.7" width="23.60" height="5.90" fill="#b8e8f0"/>
<rect x="573.30" y="186.3" width="23.60" height="8.60" fill="#b0dcec"/>
<rect x="573.30" y="194.6" width="23.60" height="4.70" fill="#f0a090"/>
<rect x="573.30" y="199" width="23.60" height="4.30" fill="#a8d8f0"/>
<rect x="573.30" y="203" width="23.60" height="9.30" fill="#78b0ec"/>
<rect x="573.30" y="212" width="23.60" height="9.30" fill="#98d4f0"/>
<rect x="573.30" y="221" width="23.60" height="3.30" fill="#6898e8"/>
<rect x="573.30" y="224" width="23.60" height="4.30" fill="#80c0f0"/>
<rect x="573.30" y="228" width="23.60" height="12.30" fill="#3c60d4"/>
<rect x="573.30" y="240" width="23.60" height="7.10" fill="#1818a0"/>
<rect x="596.60" y="43.6" width="23.60" height="6.70" fill="#f04040"/>
<rect x="596.60" y="50" width="23.60" height="4.30" fill="#f03838"/>
<rect x="596.60" y="54" width="23.60" height="4.30" fill="#f04848"/>
<rect x="596.60" y="58" width="23.60" height="3.40" fill="#f04040"/>
<rect x="596.60" y="61.1" width="23.60" height="5.50" fill="#f07878"/>
<rect x="596.60" y="66.3" width="23.60" height="4.00" fill="#f03838"/>
<rect x="596.60" y="70" width="23.60" height="3.30" fill="#e83030"/>
<rect x="596.60" y="73" width="23.60" height="7.50" fill="#f03838"/>
<rect x="596.60" y="80.2" width="23.60" height="5.50" fill="#f08080"/>
<rect x="596.60" y="85.4" width="23.60" height="4.70" fill="#f0a898"/>
<rect x="596.60" y="89.8" width="23.60" height="4.50" fill="#f08080"/>
<rect x="596.60" y="94" width="23.60" height="5.50" fill="#f0b0a0"/>
<rect x="596.60" y="99.2" width="23.60" height="2.40" fill="#f0c0a0"/>
<rect x="596.60" y="101.3" width="23.60" height="3.40" fill="#d03030"/>
<rect x="596.60" y="104.4" width="23.60" height="3.80" fill="#f03030"/>
<rect x="596.60" y="107.9" width="23.60" height="4.40" fill="#f09090"/>
<rect x="596.60" y="112" width="23.60" height="3.30" fill="#f08888"/>
<rect x="596.60" y="115" width="23.60" height="2.80" fill="#f0a0a0"/>
<rect x="596.60" y="117.5" width="23.60" height="2.80" fill="#70a0e8"/>
<rect x="596.60" y="120" width="23.60" height="8.20" fill="#a8dcf0"/>
<rect x="596.60" y="127.9" width="23.60" height="6.40" fill="#e83030"/>
<rect x="596.60" y="134" width="23.60" height="4.30" fill="#f06060"/>
<rect x="596.60" y="138" width="23.60" height="4.20" fill="#f07070"/>
<rect x="596.60" y="141.9" width="23.60" height="4.40" fill="#f03838"/>
<rect x="596.60" y="146" width="23.60" height="7.30" fill="#f06060"/>
<rect x="596.60" y="153" width="23.60" height="3.70" fill="#d83030"/>
<rect x="596.60" y="156.4" width="23.60" height="3.90" fill="#f08080"/>
<rect x="596.60" y="160" width="23.60" height="4.30" fill="#f07070"/>
<rect x="596.60" y="164" width="23.60" height="5.80" fill="#f08888"/>
<rect x="596.60" y="169.5" width="23.60" height="4.60" fill="#a0d8f0"/>
<rect x="596.60" y="173.8" width="23.60" height="3.50" fill="#f06060"/>
<rect x="596.60" y="177" width="23.60" height="3.30" fill="#f05050"/>
<rect x="596.60" y="180" width="23.60" height="6.60" fill="#f06060"/>
<rect x="596.60" y="186.3" width="23.60" height="7.00" fill="#f07070"/>
<rect x="596.60" y="193" width="23.60" height="4.80" fill="#a0c8f0"/>
<rect x="596.60" y="197.5" width="23.60" height="3.80" fill="#5888e0"/>
<rect x="596.60" y="201" width="23.60" height="4.30" fill="#a0d8f0"/>
<rect x="596.60" y="205" width="23.60" height="7.30" fill="#5080e0"/>
<rect x="596.60" y="212" width="23.60" height="1.30" fill="#5888e0"/>
<rect x="596.60" y="213" width="23.60" height="5.30" fill="#f07070"/>
<rect x="596.60" y="218" width="23.60" height="2.30" fill="#f0a0a0"/>
<rect x="596.60" y="220" width="23.60" height="7.30" fill="#a0d8f0"/>
<rect x="596.60" y="227" width="23.60" height="3.30" fill="#3050c8"/>
<rect x="596.60" y="230" width="23.60" height="4.30" fill="#5888e0"/>
<rect x="596.60" y="234" width="23.60" height="8.30" fill="#3c60d4"/>
<rect x="596.60" y="242" width="23.60" height="5.10" fill="#2028a8"/>
<rect x="503" y="124.9" width="117.5" height="3.0" fill="#fff" />
<rect x="503" y="183.5" width="117.5" height="2.7" fill="#fff" />
<rect x="503" y="208.8" width="117.5" height="3.1" fill="#fff" />
<text transform="translate(492.20,87.20)" font-size="10.2" text-anchor="middle" font-weight="normal" fill="#1a1a1a" stroke="#1a1a1a" stroke-width="0.18" >4</text>
<text transform="translate(492.20,158.10)" font-size="10.2" text-anchor="middle" font-weight="normal" fill="#1a1a1a" stroke="#1a1a1a" stroke-width="0.18" >3</text>
<text transform="translate(492.20,200.70)" font-size="10.2" text-anchor="middle" font-weight="normal" fill="#1a1a1a" stroke="#1a1a1a" stroke-width="0.18" >2</text>
<text transform="translate(492.20,231.60)" font-size="10.2" text-anchor="middle" font-weight="normal" fill="#1a1a1a" stroke="#1a1a1a" stroke-width="0.18" >1</text>
<defs>
<linearGradient id="gB" x1="0" y1="0" x2="0" y2="1">
<stop offset="0" stop-color="#6e1010"/><stop offset="0.15" stop-color="#901818"/><stop offset="0.27" stop-color="#b01e1e"/>
<stop offset="0.38" stop-color="#d82626"/><stop offset="0.43" stop-color="#ee3030"/><stop offset="0.465" stop-color="#f07a5a"/>
<stop offset="0.49" stop-color="#f4cc9c"/><stop offset="0.51" stop-color="#f2f2d2"/><stop offset="0.535" stop-color="#c4ecf0"/>
<stop offset="0.57" stop-color="#84d0f4"/><stop offset="0.63" stop-color="#50a6f0"/><stop offset="0.70" stop-color="#3c78e6"/>
<stop offset="0.80" stop-color="#2842cc"/><stop offset="0.90" stop-color="#18189c"/><stop offset="1" stop-color="#0a0a6c"/>
</linearGradient>
<linearGradient id="gC" x1="0" y1="0" x2="0" y2="1">
<stop offset="0" stop-color="#a81c1c"/><stop offset="0.08" stop-color="#d02222"/><stop offset="0.17" stop-color="#ec3030"/>
<stop offset="0.26" stop-color="#f06868"/><stop offset="0.35" stop-color="#f0a090"/><stop offset="0.40" stop-color="#f4c8b0"/>
<stop offset="0.44" stop-color="#f4f2c4"/><stop offset="0.50" stop-color="#e0f6d8"/><stop offset="0.57" stop-color="#b8e6f0"/>
<stop offset="0.64" stop-color="#8ccaf2"/><stop offset="0.73" stop-color="#5c92e6"/><stop offset="0.83" stop-color="#3858d0"/>
<stop offset="0.92" stop-color="#1c20a0"/><stop offset="1" stop-color="#0a0a7c"/>
</linearGradient></defs>
<rect x="404.4" y="118.7" width="11.8" height="77.5" fill="url(#gB)" />
<line x1="404.6" y1="121" x2="406.4" y2="121" stroke="#fff" stroke-width="0.7" />
<line x1="414.2" y1="121" x2="416" y2="121" stroke="#fff" stroke-width="0.7" />
<line x1="404.6" y1="129.5" x2="406.4" y2="129.5" stroke="#fff" stroke-width="0.7" />
<line x1="414.2" y1="129.5" x2="416" y2="129.5" stroke="#fff" stroke-width="0.7" />
<line x1="404.6" y1="138" x2="406.4" y2="138" stroke="#fff" stroke-width="0.7" />
<line x1="414.2" y1="138" x2="416" y2="138" stroke="#fff" stroke-width="0.7" />
<line x1="404.6" y1="146.5" x2="406.4" y2="146.5" stroke="#fff" stroke-width="0.7" />
<line x1="414.2" y1="146.5" x2="416" y2="146.5" stroke="#fff" stroke-width="0.7" />
<line x1="404.6" y1="163.5" x2="406.4" y2="163.5" stroke="#fff" stroke-width="0.7" />
<line x1="414.2" y1="163.5" x2="416" y2="163.5" stroke="#fff" stroke-width="0.7" />
<line x1="404.6" y1="172" x2="406.4" y2="172" stroke="#fff" stroke-width="0.7" />
<line x1="414.2" y1="172" x2="416" y2="172" stroke="#fff" stroke-width="0.7" />
<line x1="404.6" y1="180.5" x2="406.4" y2="180.5" stroke="#fff" stroke-width="0.7" />
<line x1="414.2" y1="180.5" x2="416" y2="180.5" stroke="#fff" stroke-width="0.7" />
<line x1="404.6" y1="189" x2="406.4" y2="189" stroke="#fff" stroke-width="0.7" />
<line x1="414.2" y1="189" x2="416" y2="189" stroke="#fff" stroke-width="0.7" />
<text transform="translate(428.80,124.70)" font-size="10" text-anchor="end" font-weight="normal" fill="#1a1a1a" stroke="#1a1a1a" stroke-width="0.18" >4</text>
<text transform="translate(428.80,142.20)" font-size="10" text-anchor="end" font-weight="normal" fill="#1a1a1a" stroke="#1a1a1a" stroke-width="0.18" >2</text>
<text transform="translate(428.80,158.80)" font-size="10" text-anchor="end" font-weight="normal" fill="#1a1a1a" stroke="#1a1a1a" stroke-width="0.18" >0</text>
<text transform="translate(428.80,175.60)" font-size="10" text-anchor="end" font-weight="normal" fill="#1a1a1a" stroke="#1a1a1a" stroke-width="0.18" >-2</text>
<text transform="translate(428.80,192.10)" font-size="10" text-anchor="end" font-weight="normal" fill="#1a1a1a" stroke="#1a1a1a" stroke-width="0.18" >-4</text>
<text transform="translate(403.60,98.60)" font-size="9.5" text-anchor="start" font-weight="normal" fill="#1a1a1a" stroke="#1a1a1a" stroke-width="0.18" >Log2</text>
<text transform="translate(403.60,110.90)" font-size="9.5" text-anchor="start" font-weight="normal" fill="#1a1a1a" stroke="#1a1a1a" stroke-width="0.18" >Fold Change</text>
<defs><linearGradient id="gF" x1="0" y1="0" x2="0" y2="1"><stop offset="0" stop-color="#f6e4e4"/><stop offset="0.5" stop-color="#f2f2ee"/><stop offset="1" stop-color="#e4e6f6"/></linearGradient></defs>
<rect x="624.9" y="131" width="1.1" height="51" fill="url(#gF)" />
<rect x="632.8" y="118.2" width="10.9" height="54.5" fill="url(#gC)" />
<line x1="633" y1="120.5" x2="635" y2="120.5" stroke="#fff" stroke-width="0.7" />
<line x1="641.5" y1="120.5" x2="643.5" y2="120.5" stroke="#fff" stroke-width="0.7" />
<line x1="633" y1="170.8" x2="635" y2="170.8" stroke="#fff" stroke-width="0.7" />
<line x1="641.5" y1="170.8" x2="643.5" y2="170.8" stroke="#fff" stroke-width="0.7" />
<text transform="translate(645.60,124.50)" font-size="10.3" text-anchor="start" font-weight="normal" fill="#1a1a1a" stroke="#1a1a1a" stroke-width="0.18" >1</text>
<text transform="translate(645.60,147.40)" font-size="10.3" text-anchor="start" font-weight="normal" fill="#1a1a1a" stroke="#1a1a1a" stroke-width="0.18" >0.6</text>
<text transform="translate(645.60,174.10)" font-size="10.3" text-anchor="start" font-weight="normal" fill="#1a1a1a" stroke="#1a1a1a" stroke-width="0.18" >0</text>
<text transform="translate(631.60,98.00)" font-size="9.75" text-anchor="start" font-weight="normal" fill="#1a1a1a" stroke="#1a1a1a" stroke-width="0.18" >Scaled NES</text>
<text transform="translate(631.60,110.30)" font-size="9.75" text-anchor="start" font-weight="normal" fill="#1a1a1a" stroke="#1a1a1a" stroke-width="0.18" >(0-1)</text>
<text transform="translate(91.30,288.80)" font-size="9.8" text-anchor="middle" font-weight="normal" fill="#1a1a1a" stroke="#1a1a1a" stroke-width="0.18" >Pattern 1 ( 20 Pathways)</text>
<polyline points="39.4,328.0 56.6,335.6 73.8,339.4 82.4,339.7 91.0,339.7 142.6,340.1" fill="none" stroke="#00c08b" stroke-width="0.75"/>
<polyline points="39.4,328.0 56.6,339.1 73.8,339.9 82.4,340.1 91.0,340.3 142.6,340.9" fill="none" stroke="#f8766d" stroke-width="0.75"/>
<polyline points="39.4,328.0 56.6,342.1 73.8,340.3 82.4,340.3 91.0,339.1 142.6,337.2" fill="none" stroke="#e48800" stroke-width="0.75"/>
<polyline points="39.4,328.0 56.6,341.5 73.8,342.8 82.4,348.3 91.0,343.4 142.6,337.6" fill="none" stroke="#93aa00" stroke-width="0.75"/>
<polyline points="39.4,328.0 56.6,342.6 73.8,342.5 82.4,339.9 91.0,344.0 142.6,344.0" fill="none" stroke="#2bb600" stroke-width="0.75"/>
<polyline points="39.4,328.0 56.6,343.0 73.8,344.0 82.4,344.0 91.0,344.6 142.6,345.8" fill="none" stroke="#6eb000" stroke-width="0.75"/>
<polyline points="39.4,328.0 56.6,345.8 73.8,350.8 82.4,351.4 91.0,350.1 142.6,341.5" fill="none" stroke="#00a9ff" stroke-width="0.75"/>
<polyline points="39.4,328.0 56.6,346.4 73.8,345.8 82.4,345.2 91.0,345.2 142.6,343.4" fill="none" stroke="#bb81ff" stroke-width="0.75"/>
<polyline points="39.4,328.0 56.6,345.2 73.8,349.6 82.4,350.8 91.0,350.1 142.6,348.9" fill="none" stroke="#f962dc" stroke-width="0.75"/>
<polyline points="39.4,328.0 56.6,347.7 73.8,351.4 82.4,350.8 91.0,349.5 142.6,347.7" fill="none" stroke="#e36ef6" stroke-width="0.75"/>
<polyline points="39.4,328.0 56.6,350.9 73.8,353.2 82.4,353.2 91.0,352.6 142.6,351.4" fill="none" stroke="#00bfc4" stroke-width="0.75"/>
<polyline points="39.4,328.0 56.6,350.9 73.8,353.8 82.4,353.8 91.0,353.8 142.6,352.6" fill="none" stroke="#00c19f" stroke-width="0.75"/>
<polyline points="39.4,328.0 56.6,348.9 73.8,352.6 82.4,352.6 91.0,353.2 142.6,353.2" fill="none" stroke="#00b9e3" stroke-width="0.75"/>
<polyline points="39.4,328.0 56.6,355.1 73.8,359.4 82.4,360.0 91.0,358.8 142.6,353.8" fill="none" stroke="#cd9600" stroke-width="0.75"/>
<polyline points="39.4,328.0 56.6,354.8 73.8,357.5 82.4,357.5 91.0,357.5 142.6,357.5" fill="none" stroke="#fd6f86" stroke-width="0.75"/>
<polyline points="39.4,328.0 56.6,351.4 73.8,352.6 82.4,356.3 91.0,356.3 142.6,356.3" fill="none" stroke="#00bb4b" stroke-width="0.75"/>
<polyline points="39.4,328.0 56.6,348.9 73.8,352.0 82.4,352.6 91.0,352.6 142.6,357.3" fill="none" stroke="#ff62ba" stroke-width="0.75"/>
<polyline points="39.4,328.0 56.6,344.0 73.8,347.7 82.4,348.9 91.0,347.7 142.6,345.8" fill="none" stroke="#7a97ff" stroke-width="0.75"/>
<polyline points="39.4,328.0 56.6,340.3 73.8,344.0 82.4,344.6 91.0,344.0 142.6,342.8" fill="none" stroke="#afa200" stroke-width="0.75"/>
<polyline points="39.4,328.0 56.6,347.1 73.8,349.5 82.4,348.9 91.0,349.5 142.6,350.1" fill="none" stroke="#ff699c" stroke-width="0.75"/>
<line x1="34.4" y1="298.5" x2="34.4" y2="364.6" stroke="#222" stroke-width="1.2" />
<line x1="33.8" y1="364.4" x2="143.2" y2="364.4" stroke="#222" stroke-width="1.2" />
<line x1="30.4" y1="303.4" x2="34.4" y2="303.4" stroke="#222" stroke-width="1" />
<text transform="translate(27.30,306.30) scale(1.0,1.24)" font-size="6.8" text-anchor="end" font-weight="normal" fill="#1a1a1a" stroke="#1a1a1a" stroke-width="0.18" >2</text>
<line x1="30.4" y1="315.7" x2="34.4" y2="315.7" stroke="#222" stroke-width="1" />
<text transform="translate(27.30,318.60) scale(1.0,1.24)" font-size="6.8" text-anchor="end" font-weight="normal" fill="#1a1a1a" stroke="#1a1a1a" stroke-width="0.18" >1</text>
<line x1="30.4" y1="328.0" x2="34.4" y2="328.0" stroke="#222" stroke-width="1" />
<text transform="translate(27.30,330.90) scale(1.0,1.24)" font-size="6.8" text-anchor="end" font-weight="normal" fill="#1a1a1a" stroke="#1a1a1a" stroke-width="0.18" >0</text>
<line x1="30.4" y1="340.3" x2="34.4" y2="340.3" stroke="#222" stroke-width="1" />
<text transform="translate(27.30,343.20) scale(1.0,1.24)" font-size="6.8" text-anchor="end" font-weight="normal" fill="#1a1a1a" stroke="#1a1a1a" stroke-width="0.18" >-1</text>
<line x1="30.4" y1="352.6" x2="34.4" y2="352.6" stroke="#222" stroke-width="1" />
<text transform="translate(27.30,355.50) scale(1.0,1.24)" font-size="6.8" text-anchor="end" font-weight="normal" fill="#1a1a1a" stroke="#1a1a1a" stroke-width="0.18" >-2</text>
<line x1="39.4" y1="364.4" x2="39.4" y2="368.6" stroke="#222" stroke-width="1" />
<line x1="56.599999999999994" y1="364.4" x2="56.599999999999994" y2="368.6" stroke="#222" stroke-width="1" />
<line x1="73.8" y1="364.4" x2="73.8" y2="368.6" stroke="#222" stroke-width="1" />
<line x1="82.4" y1="364.4" x2="82.4" y2="368.6" stroke="#222" stroke-width="1" />
<line x1="91.0" y1="364.4" x2="91.0" y2="368.6" stroke="#222" stroke-width="1" />
<line x1="142.6" y1="364.4" x2="142.6" y2="368.6" stroke="#222" stroke-width="1" />
<text transform="translate(39.40,376.80) scale(1.0,1.2)" font-size="7" text-anchor="middle" font-weight="normal" fill="#1a1a1a" stroke="#1a1a1a" stroke-width="0.18" >0</text>
<text transform="translate(56.60,376.80) scale(1.0,1.2)" font-size="7" text-anchor="middle" font-weight="normal" fill="#1a1a1a" stroke="#1a1a1a" stroke-width="0.18" >8</text>
<text transform="translate(73.00,376.80) scale(1.0,1.2)" font-size="7" text-anchor="middle" font-weight="normal" fill="#1a1a1a" stroke="#1a1a1a" stroke-width="0.18" >16</text>
<text transform="translate(82.40,376.80) scale(1.0,1.2)" font-size="7" text-anchor="middle" font-weight="normal" fill="#1a1a1a" stroke="#1a1a1a" stroke-width="0.18" >20</text>
<text transform="translate(91.60,376.80) scale(1.0,1.2)" font-size="7" text-anchor="middle" font-weight="normal" fill="#1a1a1a" stroke="#1a1a1a" stroke-width="0.18" >24</text>
<text transform="translate(142.60,376.80) scale(1.0,1.2)" font-size="7" text-anchor="middle" font-weight="normal" fill="#1a1a1a" stroke="#1a1a1a" stroke-width="0.18" >48</text>
<text transform="translate(14.80,331.60) rotate(-90)" font-size="9.9" text-anchor="middle" font-weight="normal" fill="#1a1a1a" stroke="#1a1a1a" stroke-width="0.18" >NES</text>
<text transform="translate(27.90,376.10) scale(1.0,1.05)" font-size="9.7" text-anchor="end" font-weight="normal" fill="#1a1a1a" stroke="#1a1a1a" stroke-width="0.18" >PD (h)</text>
<text transform="translate(267.90,288.80)" font-size="9.8" text-anchor="middle" font-weight="normal" fill="#1a1a1a" stroke="#1a1a1a" stroke-width="0.18" >Pattern 2 ( 6 Pathways)</text>
<polyline points="216.0,328.0 233.2,315.8 250.4,346.1 259.0,345.0 267.6,345.8 319.2,348.4" fill="none" stroke="#f8766d" stroke-width="0.75"/>
<polyline points="216.0,328.0 233.2,312.1 250.4,338.6 259.0,340.2 267.6,342.8 319.2,335.0" fill="none" stroke="#b79f00" stroke-width="0.75"/>
<polyline points="216.0,328.0 233.2,312.5 250.4,337.8 259.0,337.1 267.6,343.4 319.2,338.9" fill="none" stroke="#00ba38" stroke-width="0.75"/>
<polyline points="216.0,328.0 233.2,313.9 250.4,338.6 259.0,345.0 267.6,344.2 319.2,348.7" fill="none" stroke="#00bfc4" stroke-width="0.75"/>
<polyline points="216.0,328.0 233.2,316.2 250.4,355.7 259.0,358.3 267.6,358.5 319.2,361.5" fill="none" stroke="#619cff" stroke-width="0.75"/>
<polyline points="216.0,328.0 233.2,315.3 250.4,344.2 259.0,345.0 267.6,341.8 319.2,339.6" fill="none" stroke="#f564e3" stroke-width="0.75"/>
<line x1="210.8" y1="298.5" x2="210.8" y2="364.6" stroke="#222" stroke-width="1.2" />
<line x1="210.20000000000002" y1="364.4" x2="319.8" y2="364.4" stroke="#222" stroke-width="1.2" />
<line x1="206.8" y1="303.4" x2="210.8" y2="303.4" stroke="#222" stroke-width="1" />
<text transform="translate(203.70,306.30) scale(1.0,1.24)" font-size="6.8" text-anchor="end" font-weight="normal" fill="#1a1a1a" stroke="#1a1a1a" stroke-width="0.18" >2</text>
<line x1="206.8" y1="315.7" x2="210.8" y2="315.7" stroke="#222" stroke-width="1" />
<text transform="translate(203.70,318.60) scale(1.0,1.24)" font-size="6.8" text-anchor="end" font-weight="normal" fill="#1a1a1a" stroke="#1a1a1a" stroke-width="0.18" >1</text>
<line x1="206.8" y1="328.0" x2="210.8" y2="328.0" stroke="#222" stroke-width="1" />
<text transform="translate(203.70,330.90) scale(1.0,1.24)" font-size="6.8" text-anchor="end" font-weight="normal" fill="#1a1a1a" stroke="#1a1a1a" stroke-width="0.18" >0</text>
<line x1="206.8" y1="340.3" x2="210.8" y2="340.3" stroke="#222" stroke-width="1" />
<text transform="translate(203.70,343.20) scale(1.0,1.24)" font-size="6.8" text-anchor="end" font-weight="normal" fill="#1a1a1a" stroke="#1a1a1a" stroke-width="0.18" >-1</text>
<line x1="206.8" y1="352.6" x2="210.8" y2="352.6" stroke="#222" stroke-width="1" />
<text transform="translate(203.70,355.50) scale(1.0,1.24)" font-size="6.8" text-anchor="end" font-weight="normal" fill="#1a1a1a" stroke="#1a1a1a" stroke-width="0.18" >-2</text>
<line x1="216.0" y1="364.4" x2="216.0" y2="368.6" stroke="#222" stroke-width="1" />
<line x1="233.2" y1="364.4" x2="233.2" y2="368.6" stroke="#222" stroke-width="1" />
<line x1="250.4" y1="364.4" x2="250.4" y2="368.6" stroke="#222" stroke-width="1" />
<line x1="259.0" y1="364.4" x2="259.0" y2="368.6" stroke="#222" stroke-width="1" />
<line x1="267.6" y1="364.4" x2="267.6" y2="368.6" stroke="#222" stroke-width="1" />
<line x1="319.2" y1="364.4" x2="319.2" y2="368.6" stroke="#222" stroke-width="1" />
<text transform="translate(216.00,376.80) scale(1.0,1.2)" font-size="7" text-anchor="middle" font-weight="normal" fill="#1a1a1a" stroke="#1a1a1a" stroke-width="0.18" >0</text>
<text transform="translate(233.20,376.80) scale(1.0,1.2)" font-size="7" text-anchor="middle" font-weight="normal" fill="#1a1a1a" stroke="#1a1a1a" stroke-width="0.18" >8</text>
<text transform="translate(249.60,376.80) scale(1.0,1.2)" font-size="7" text-anchor="middle" font-weight="normal" fill="#1a1a1a" stroke="#1a1a1a" stroke-width="0.18" >16</text>
<text transform="translate(259.00,376.80) scale(1.0,1.2)" font-size="7" text-anchor="middle" font-weight="normal" fill="#1a1a1a" stroke="#1a1a1a" stroke-width="0.18" >20</text>
<text transform="translate(268.20,376.80) scale(1.0,1.2)" font-size="7" text-anchor="middle" font-weight="normal" fill="#1a1a1a" stroke="#1a1a1a" stroke-width="0.18" >24</text>
<text transform="translate(319.20,376.80) scale(1.0,1.2)" font-size="7" text-anchor="middle" font-weight="normal" fill="#1a1a1a" stroke="#1a1a1a" stroke-width="0.18" >48</text>
<text transform="translate(191.20,331.60) rotate(-90)" font-size="9.9" text-anchor="middle" font-weight="normal" fill="#1a1a1a" stroke="#1a1a1a" stroke-width="0.18" >NES</text>
<text transform="translate(204.30,376.10) scale(1.0,1.05)" font-size="9.7" text-anchor="end" font-weight="normal" fill="#1a1a1a" stroke="#1a1a1a" stroke-width="0.18" >PD (h)</text>
<text transform="translate(444.70,288.80)" font-size="9.8" text-anchor="middle" font-weight="normal" fill="#1a1a1a" stroke="#1a1a1a" stroke-width="0.18" >Pattern 3 ( 31 Pathways)</text>
<polyline points="392.8,328.0 410.0,347.6 427.2,313.8 435.8,312.7 444.4,317.0 496.0,311.6" fill="none" stroke="#f8766d" stroke-width="0.75"/>
<polyline points="392.8,328.0 410.0,348.9 427.2,313.2 435.8,313.1 444.4,316.6 496.0,312.8" fill="none" stroke="#f07f4b" stroke-width="0.75"/>
<polyline points="392.8,328.0 410.0,348.5 427.2,317.7 435.8,318.3 444.4,316.3 496.0,316.6" fill="none" stroke="#e58709" stroke-width="0.75"/>
<polyline points="392.8,328.0 410.0,340.7 427.2,315.3 435.8,312.0 444.4,315.5 496.0,313.3" fill="none" stroke="#d98f00" stroke-width="0.75"/>
<polyline points="392.8,328.0 410.0,349.1 427.2,303.8 435.8,302.2 444.4,305.7 496.0,316.4" fill="none" stroke="#cb9700" stroke-width="0.75"/>
<polyline points="392.8,328.0 410.0,345.3 427.2,317.0 435.8,314.6 444.4,319.5 496.0,311.0" fill="none" stroke="#ba9e00" stroke-width="0.75"/>
<polyline points="392.8,328.0 410.0,344.4 427.2,309.0 435.8,308.6 444.4,312.3 496.0,317.4" fill="none" stroke="#a7a400" stroke-width="0.75"/>
<polyline points="392.8,328.0 410.0,340.0 427.2,315.6 435.8,316.1 444.4,317.4 496.0,311.0" fill="none" stroke="#90aa00" stroke-width="0.75"/>
<polyline points="392.8,328.0 410.0,345.5 427.2,311.8 435.8,309.6 444.4,311.2 496.0,315.2" fill="none" stroke="#74b000" stroke-width="0.75"/>
<polyline points="392.8,328.0 410.0,342.2 427.2,309.9 435.8,307.2 444.4,309.1 496.0,314.6" fill="none" stroke="#4cb400" stroke-width="0.75"/>
<polyline points="392.8,328.0 410.0,348.1 427.2,303.7 435.8,304.3 444.4,303.4 496.0,316.3" fill="none" stroke="#00b825" stroke-width="0.75"/>
<polyline points="392.8,328.0 410.0,349.2 427.2,311.3 435.8,310.0 444.4,310.2 496.0,311.1" fill="none" stroke="#00bc53" stroke-width="0.75"/>
<polyline points="392.8,328.0 410.0,345.3 427.2,305.3 435.8,303.9 444.4,305.3 496.0,311.0" fill="none" stroke="#00be72" stroke-width="0.75"/>
<polyline points="392.8,328.0 410.0,337.7 427.2,311.8 435.8,308.5 444.4,312.5 496.0,310.0" fill="none" stroke="#00c08d" stroke-width="0.75"/>
<polyline points="392.8,328.0 410.0,339.7 427.2,317.8 435.8,316.8 444.4,315.4 496.0,308.1" fill="none" stroke="#00c1a5" stroke-width="0.75"/>
<polyline points="392.8,328.0 410.0,344.2 427.2,314.4 435.8,313.2 444.4,318.0 496.0,312.5" fill="none" stroke="#00c0ba" stroke-width="0.75"/>
<polyline points="392.8,328.0 410.0,348.1 427.2,316.2 435.8,319.4 444.4,315.2 496.0,316.6" fill="none" stroke="#00bece" stroke-width="0.75"/>
<polyline points="392.8,328.0 410.0,344.1 427.2,315.0 435.8,312.2 444.4,318.2 496.0,312.6" fill="none" stroke="#00bae0" stroke-width="0.75"/>
<polyline points="392.8,328.0 410.0,337.1 427.2,310.3 435.8,308.0 444.4,308.7 496.0,314.7" fill="none" stroke="#00b4ef" stroke-width="0.75"/>
<polyline points="392.8,328.0 410.0,344.6 427.2,312.4 435.8,309.6 444.4,310.2 496.0,316.3" fill="none" stroke="#00adfb" stroke-width="0.75"/>
<polyline points="392.8,328.0 410.0,346.4 427.2,316.1 435.8,318.0 444.4,316.8 496.0,310.9" fill="none" stroke="#1ea3ff" stroke-width="0.75"/>
<polyline points="392.8,328.0 410.0,349.7 427.2,314.7 435.8,315.3 444.4,316.2 496.0,311.2" fill="none" stroke="#7498ff" stroke-width="0.75"/>
<polyline points="392.8,328.0 410.0,339.8 427.2,304.1 435.8,304.0 444.4,304.0 496.0,309.8" fill="none" stroke="#a08cff" stroke-width="0.75"/>
<polyline points="392.8,328.0 410.0,336.8 427.2,317.9 435.8,315.9 444.4,316.3 496.0,308.3" fill="none" stroke="#c07fff" stroke-width="0.75"/>
<polyline points="392.8,328.0 410.0,344.0 427.2,312.7 435.8,315.7 444.4,312.5 496.0,317.4" fill="none" stroke="#d873fc" stroke-width="0.75"/>
<polyline points="392.8,328.0 410.0,346.8 427.2,317.7 435.8,320.2 444.4,319.3 496.0,317.5" fill="none" stroke="#ea6af0" stroke-width="0.75"/>
<polyline points="392.8,328.0 410.0,347.6 427.2,318.8 435.8,321.7 444.4,320.2 496.0,317.8" fill="none" stroke="#f763e1" stroke-width="0.75"/>
<polyline points="392.8,328.0 410.0,340.9 427.2,305.3 435.8,307.9 444.4,307.5 496.0,313.9" fill="none" stroke="#fe61ce" stroke-width="0.75"/>
<polyline points="392.8,328.0 410.0,348.0 427.2,313.2 435.8,310.6 444.4,310.8 496.0,312.4" fill="none" stroke="#ff62ba" stroke-width="0.75"/>
<polyline points="392.8,328.0 410.0,348.5 427.2,311.3 435.8,314.3 444.4,312.9 496.0,314.9" fill="none" stroke="#ff67a3" stroke-width="0.75"/>
<polyline points="392.8,328.0 410.0,347.4 427.2,306.0 435.8,309.6 444.4,303.9 496.0,311.7" fill="none" stroke="#fe6e89" stroke-width="0.75"/>
<line x1="387.4" y1="298.5" x2="387.4" y2="364.6" stroke="#222" stroke-width="1.2" />
<line x1="386.79999999999995" y1="364.4" x2="496.6" y2="364.4" stroke="#222" stroke-width="1.2" />
<line x1="383.4" y1="303.4" x2="387.4" y2="303.4" stroke="#222" stroke-width="1" />
<text transform="translate(380.30,306.30) scale(1.0,1.24)" font-size="6.8" text-anchor="end" font-weight="normal" fill="#1a1a1a" stroke="#1a1a1a" stroke-width="0.18" >2</text>
<line x1="383.4" y1="315.7" x2="387.4" y2="315.7" stroke="#222" stroke-width="1" />
<text transform="translate(380.30,318.60) scale(1.0,1.24)" font-size="6.8" text-anchor="end" font-weight="normal" fill="#1a1a1a" stroke="#1a1a1a" stroke-width="0.18" >1</text>
<line x1="383.4" y1="328.0" x2="387.4" y2="328.0" stroke="#222" stroke-width="1" />
<text transform="translate(380.30,330.90) scale(1.0,1.24)" font-size="6.8" text-anchor="end" font-weight="normal" fill="#1a1a1a" stroke="#1a1a1a" stroke-width="0.18" >0</text>
<line x1="383.4" y1="340.3" x2="387.4" y2="340.3" stroke="#222" stroke-width="1" />
<text transform="translate(380.30,343.20) scale(1.0,1.24)" font-size="6.8" text-anchor="end" font-weight="normal" fill="#1a1a1a" stroke="#1a1a1a" stroke-width="0.18" >-1</text>
<line x1="383.4" y1="352.6" x2="387.4" y2="352.6" stroke="#222" stroke-width="1" />
<text transform="translate(380.30,355.50) scale(1.0,1.24)" font-size="6.8" text-anchor="end" font-weight="normal" fill="#1a1a1a" stroke="#1a1a1a" stroke-width="0.18" >-2</text>
<line x1="392.8" y1="364.4" x2="392.8" y2="368.6" stroke="#222" stroke-width="1" />
<line x1="410.0" y1="364.4" x2="410.0" y2="368.6" stroke="#222" stroke-width="1" />
<line x1="427.2" y1="364.4" x2="427.2" y2="368.6" stroke="#222" stroke-width="1" />
<line x1="435.8" y1="364.4" x2="435.8" y2="368.6" stroke="#222" stroke-width="1" />
<line x1="444.4" y1="364.4" x2="444.4" y2="368.6" stroke="#222" stroke-width="1" />
<line x1="496.0" y1="364.4" x2="496.0" y2="368.6" stroke="#222" stroke-width="1" />
<text transform="translate(392.80,376.80) scale(1.0,1.2)" font-size="7" text-anchor="middle" font-weight="normal" fill="#1a1a1a" stroke="#1a1a1a" stroke-width="0.18" >0</text>
<text transform="translate(410.00,376.80) scale(1.0,1.2)" font-size="7" text-anchor="middle" font-weight="normal" fill="#1a1a1a" stroke="#1a1a1a" stroke-width="0.18" >8</text>
<text transform="translate(426.40,376.80) scale(1.0,1.2)" font-size="7" text-anchor="middle" font-weight="normal" fill="#1a1a1a" stroke="#1a1a1a" stroke-width="0.18" >16</text>
<text transform="translate(435.80,376.80) scale(1.0,1.2)" font-size="7" text-anchor="middle" font-weight="normal" fill="#1a1a1a" stroke="#1a1a1a" stroke-width="0.18" >20</text>
<text transform="translate(445.00,376.80) scale(1.0,1.2)" font-size="7" text-anchor="middle" font-weight="normal" fill="#1a1a1a" stroke="#1a1a1a" stroke-width="0.18" >24</text>
<text transform="translate(496.00,376.80) scale(1.0,1.2)" font-size="7" text-anchor="middle" font-weight="normal" fill="#1a1a1a" stroke="#1a1a1a" stroke-width="0.18" >48</text>
<text transform="translate(367.80,331.60) rotate(-90)" font-size="9.9" text-anchor="middle" font-weight="normal" fill="#1a1a1a" stroke="#1a1a1a" stroke-width="0.18" >NES</text>
<text transform="translate(380.90,376.10) scale(1.0,1.05)" font-size="9.7" text-anchor="end" font-weight="normal" fill="#1a1a1a" stroke="#1a1a1a" stroke-width="0.18" >PD (h)</text>
<text transform="translate(621.30,288.80)" font-size="9.8" text-anchor="middle" font-weight="normal" fill="#1a1a1a" stroke="#1a1a1a" stroke-width="0.18" >Pattern 4 ( 42 Pathways)</text>
<polyline points="569.4,328.0 586.6,317.2 603.8,311.4 612.4,319.0 621.0,312.0 672.6,306.2" fill="none" stroke="#f8766d" stroke-width="0.75"/>
<polyline points="569.4,328.0 586.6,306.6 603.8,309.4 612.4,315.5 621.0,314.0 672.6,319.7" fill="none" stroke="#f27c55" stroke-width="0.75"/>
<polyline points="569.4,328.0 586.6,308.0 603.8,311.6 612.4,307.9 621.0,314.5 672.6,318.8" fill="none" stroke="#eb8335" stroke-width="0.75"/>
<polyline points="569.4,328.0 586.6,307.4 603.8,305.4 612.4,306.8 621.0,308.4 672.6,308.9" fill="none" stroke="#e38900" stroke-width="0.75"/>
<polyline points="569.4,328.0 586.6,308.5 603.8,315.7 612.4,311.7 621.0,314.2 672.6,322.0" fill="none" stroke="#da8f00" stroke-width="0.75"/>
<polyline points="569.4,328.0 586.6,319.0 603.8,315.0 612.4,315.6 621.0,309.8 672.6,306.6" fill="none" stroke="#cf9400" stroke-width="0.75"/>
<polyline points="569.4,328.0 586.6,312.8 603.8,306.1 612.4,304.8 621.0,306.4 672.6,316.4" fill="none" stroke="#c49a00" stroke-width="0.75"/>
<polyline points="569.4,328.0 586.6,316.1 603.8,315.7 612.4,316.5 621.0,316.1 672.6,312.1" fill="none" stroke="#b79f00" stroke-width="0.75"/>
<polyline points="569.4,328.0 586.6,306.1 603.8,307.4 612.4,312.3 621.0,310.3 672.6,309.2" fill="none" stroke="#a9a400" stroke-width="0.75"/>
<polyline points="569.4,328.0 586.6,318.1 603.8,309.8 612.4,306.0 621.0,308.7 672.6,310.0" fill="none" stroke="#99a800" stroke-width="0.75"/>
<polyline points="569.4,328.0 586.6,312.3 603.8,316.4 612.4,307.7 621.0,314.5 672.6,309.2" fill="none" stroke="#86ac00" stroke-width="0.75"/>
<polyline points="569.4,328.0 586.6,305.0 603.8,313.4 612.4,313.5 621.0,306.5 672.6,310.4" fill="none" stroke="#70b000" stroke-width="0.75"/>
<polyline points="569.4,328.0 586.6,316.9 603.8,317.1 612.4,317.2 621.0,307.1 672.6,309.1" fill="none" stroke="#53b400" stroke-width="0.75"/>
<polyline points="569.4,328.0 586.6,317.2 603.8,307.6 612.4,304.9 621.0,310.3 672.6,316.6" fill="none" stroke="#1db700" stroke-width="0.75"/>
<polyline points="569.4,328.0 586.6,311.3 603.8,317.0 612.4,319.2 621.0,306.2 672.6,311.7" fill="none" stroke="#00ba38" stroke-width="0.75"/>
<polyline points="569.4,328.0 586.6,311.6 603.8,306.1 612.4,313.0 621.0,307.5 672.6,308.7" fill="none" stroke="#00bc56" stroke-width="0.75"/>
<polyline points="569.4,328.0 586.6,316.3 603.8,315.4 612.4,315.1 621.0,315.7 672.6,312.7" fill="none" stroke="#00be6d" stroke-width="0.75"/>
<polyline points="569.4,328.0 586.6,315.6 603.8,313.1 612.4,317.5 621.0,307.0 672.6,316.6" fill="none" stroke="#00bf81" stroke-width="0.75"/>
<polyline points="569.4,328.0 586.6,312.6 603.8,310.9 612.4,306.0 621.0,313.3 672.6,307.2" fill="none" stroke="#00c094" stroke-width="0.75"/>
<polyline points="569.4,328.0 586.6,312.0 603.8,311.6 612.4,311.7 621.0,318.5 672.6,315.2" fill="none" stroke="#00c1a5" stroke-width="0.75"/>
<polyline points="569.4,328.0 586.6,316.7 603.8,318.7 612.4,307.6 621.0,316.5 672.6,314.6" fill="none" stroke="#00c0b5" stroke-width="0.75"/>
<polyline points="569.4,328.0 586.6,308.7 603.8,311.2 612.4,314.6 621.0,312.1 672.6,313.2" fill="none" stroke="#00bfc4" stroke-width="0.75"/>
<polyline points="569.4,328.0 586.6,307.8 603.8,317.3 612.4,311.1 621.0,315.6 672.6,317.9" fill="none" stroke="#00bdd2" stroke-width="0.75"/>
<polyline points="569.4,328.0 586.6,308.0 603.8,311.9 612.4,311.1 621.0,309.0 672.6,307.3" fill="none" stroke="#00badf" stroke-width="0.75"/>
<polyline points="569.4,328.0 586.6,312.8 603.8,310.5 612.4,311.9 621.0,312.2 672.6,311.0" fill="none" stroke="#00b6eb" stroke-width="0.75"/>
<polyline points="569.4,328.0 586.6,312.7 603.8,311.6 612.4,312.3 621.0,306.6 672.6,310.9" fill="none" stroke="#00b1f5" stroke-width="0.75"/>
<polyline points="569.4,328.0 586.6,306.5 603.8,306.0 612.4,315.6 621.0,311.5 672.6,306.8" fill="none" stroke="#00abfd" stroke-width="0.75"/>
<polyline points="569.4,328.0 586.6,307.0 603.8,316.9 612.4,317.6 621.0,313.1 672.6,321.3" fill="none" stroke="#06a4ff" stroke-width="0.75"/>
<polyline points="569.4,328.0 586.6,315.8 603.8,317.8 612.4,309.5 621.0,308.7 672.6,307.6" fill="none" stroke="#619cff" stroke-width="0.75"/>
<polyline points="569.4,328.0 586.6,317.1 603.8,309.1 612.4,309.6 621.0,316.9 672.6,307.8" fill="none" stroke="#8893ff" stroke-width="0.75"/>
<polyline points="569.4,328.0 586.6,305.1 603.8,315.8 612.4,305.3 621.0,313.6 672.6,314.4" fill="none" stroke="#a58aff" stroke-width="0.75"/>
<polyline points="569.4,328.0 586.6,304.8 603.8,307.5 612.4,317.0 621.0,313.2 672.6,313.9" fill="none" stroke="#bd81ff" stroke-width="0.75"/>
<polyline points="569.4,328.0 586.6,314.4 603.8,316.1 612.4,314.7 621.0,309.4 672.6,322.1" fill="none" stroke="#d078ff" stroke-width="0.75"/>
<polyline points="569.4,328.0 586.6,311.2 603.8,312.8 612.4,319.1 621.0,314.5 672.6,312.1" fill="none" stroke="#df70f8" stroke-width="0.75"/>
<polyline points="569.4,328.0 586.6,311.8 603.8,317.9 612.4,304.9 621.0,308.6 672.6,306.3" fill="none" stroke="#ec69ef" stroke-width="0.75"/>
<polyline points="569.4,328.0 586.6,317.8 603.8,315.2 612.4,318.8 621.0,308.7 672.6,318.0" fill="none" stroke="#f564e3" stroke-width="0.75"/>
<polyline points="569.4,328.0 586.6,317.5 603.8,313.1 612.4,305.9 621.0,308.2 672.6,318.2" fill="none" stroke="#fb61d7" stroke-width="0.75"/>
<polyline points="569.4,328.0 586.6,317.2 603.8,306.3 612.4,311.0 621.0,309.7 672.6,321.0" fill="none" stroke="#ff61c8" stroke-width="0.75"/>
<polyline points="569.4,328.0 586.6,318.5 603.8,309.5 612.4,313.1 621.0,317.8 672.6,306.9" fill="none" stroke="#ff63b9" stroke-width="0.75"/>
<polyline points="569.4,328.0 586.6,310.0 603.8,307.9 612.4,318.2 621.0,307.7 672.6,321.4" fill="none" stroke="#ff66a8" stroke-width="0.75"/>
<polyline points="569.4,328.0 586.6,306.7 603.8,312.6 612.4,314.4 621.0,311.6 672.6,307.1" fill="none" stroke="#ff6b96" stroke-width="0.75"/>
<polyline points="569.4,328.0 586.6,315.4 603.8,317.0 612.4,311.6 621.0,315.7 672.6,320.6" fill="none" stroke="#fc7082" stroke-width="0.75"/>
<line x1="564.7" y1="298.5" x2="564.7" y2="364.6" stroke="#222" stroke-width="1.2" />
<line x1="564.1" y1="364.4" x2="673.1999999999999" y2="364.4" stroke="#222" stroke-width="1.2" />
<line x1="560.7" y1="303.4" x2="564.7" y2="303.4" stroke="#222" stroke-width="1" />
<text transform="translate(557.60,306.30) scale(1.0,1.24)" font-size="6.8" text-anchor="end" font-weight="normal" fill="#1a1a1a" stroke="#1a1a1a" stroke-width="0.18" >2</text>
<line x1="560.7" y1="315.7" x2="564.7" y2="315.7" stroke="#222" stroke-width="1" />
<text transform="translate(557.60,318.60) scale(1.0,1.24)" font-size="6.8" text-anchor="end" font-weight="normal" fill="#1a1a1a" stroke="#1a1a1a" stroke-width="0.18" >1</text>
<line x1="560.7" y1="328.0" x2="564.7" y2="328.0" stroke="#222" stroke-width="1" />
<text transform="translate(557.60,330.90) scale(1.0,1.24)" font-size="6.8" text-anchor="end" font-weight="normal" fill="#1a1a1a" stroke="#1a1a1a" stroke-width="0.18" >0</text>
<line x1="560.7" y1="340.3" x2="564.7" y2="340.3" stroke="#222" stroke-width="1" />
<text transform="translate(557.60,343.20) scale(1.0,1.24)" font-size="6.8" text-anchor="end" font-weight="normal" fill="#1a1a1a" stroke="#1a1a1a" stroke-width="0.18" >-1</text>
<line x1="560.7" y1="352.6" x2="564.7" y2="352.6" stroke="#222" stroke-width="1" />
<text transform="translate(557.60,355.50) scale(1.0,1.24)" font-size="6.8" text-anchor="end" font-weight="normal" fill="#1a1a1a" stroke="#1a1a1a" stroke-width="0.18" >-2</text>
<line x1="569.4" y1="364.4" x2="569.4" y2="368.6" stroke="#222" stroke-width="1" />
<line x1="586.6" y1="364.4" x2="586.6" y2="368.6" stroke="#222" stroke-width="1" />
<line x1="603.8" y1="364.4" x2="603.8" y2="368.6" stroke="#222" stroke-width="1" />
<line x1="612.4" y1="364.4" x2="612.4" y2="368.6" stroke="#222" stroke-width="1" />
<line x1="621.0" y1="364.4" x2="621.0" y2="368.6" stroke="#222" stroke-width="1" />
<line x1="672.5999999999999" y1="364.4" x2="672.5999999999999" y2="368.6" stroke="#222" stroke-width="1" />
<text transform="translate(569.40,376.80) scale(1.0,1.2)" font-size="7" text-anchor="middle" font-weight="normal" fill="#1a1a1a" stroke="#1a1a1a" stroke-width="0.18" >0</text>
<text transform="translate(586.60,376.80) scale(1.0,1.2)" font-size="7" text-anchor="middle" font-weight="normal" fill="#1a1a1a" stroke="#1a1a1a" stroke-width="0.18" >8</text>
<text transform="translate(603.00,376.80) scale(1.0,1.2)" font-size="7" text-anchor="middle" font-weight="normal" fill="#1a1a1a" stroke="#1a1a1a" stroke-width="0.18" >16</text>
<text transform="translate(612.40,376.80) scale(1.0,1.2)" font-size="7" text-anchor="middle" font-weight="normal" fill="#1a1a1a" stroke="#1a1a1a" stroke-width="0.18" >20</text>
<text transform="translate(621.60,376.80) scale(1.0,1.2)" font-size="7" text-anchor="middle" font-weight="normal" fill="#1a1a1a" stroke="#1a1a1a" stroke-width="0.18" >24</text>
<text transform="translate(672.60,376.80) scale(1.0,1.2)" font-size="7" text-anchor="middle" font-weight="normal" fill="#1a1a1a" stroke="#1a1a1a" stroke-width="0.18" >48</text>
<text transform="translate(545.10,331.60) rotate(-90)" font-size="9.9" text-anchor="middle" font-weight="normal" fill="#1a1a1a" stroke="#1a1a1a" stroke-width="0.18" >NES</text>
<text transform="translate(558.20,376.10) scale(1.0,1.05)" font-size="9.7" text-anchor="end" font-weight="normal" fill="#1a1a1a" stroke="#1a1a1a" stroke-width="0.18" >PD (h)</text>
<line x1="38.1" y1="463" x2="38.1" y2="560.2" stroke="#111" stroke-width="1.5" />
<line x1="37.4" y1="559.5" x2="198.6" y2="559.5" stroke="#111" stroke-width="1.5" />
<line x1="34.5" y1="467.7" x2="38.1" y2="467.7" stroke="#111" stroke-width="1.2" />
<text transform="translate(31.00,471.20)" font-size="10.2" text-anchor="end" font-weight="normal" fill="#1a1a1a" stroke="#1a1a1a" stroke-width="0.18" >0</text>
<line x1="34.5" y1="492.65" x2="38.1" y2="492.65" stroke="#111" stroke-width="1.2" />
<text transform="translate(31.00,496.15)" font-size="10.2" text-anchor="end" font-weight="normal" fill="#1a1a1a" stroke="#1a1a1a" stroke-width="0.18" >-1</text>
<line x1="34.5" y1="517.6" x2="38.1" y2="517.6" stroke="#111" stroke-width="1.2" />
<text transform="translate(31.00,521.10)" font-size="10.2" text-anchor="end" font-weight="normal" fill="#1a1a1a" stroke="#1a1a1a" stroke-width="0.18" >-2</text>
<line x1="34.5" y1="542.55" x2="38.1" y2="542.55" stroke="#111" stroke-width="1.2" />
<text transform="translate(31.00,546.05)" font-size="10.2" text-anchor="end" font-weight="normal" fill="#1a1a1a" stroke="#1a1a1a" stroke-width="0.18" >-3</text>
<line x1="45.1" y1="559.5" x2="45.1" y2="563" stroke="#111" stroke-width="1.2" />
<line x1="69.58" y1="559.5" x2="69.58" y2="563" stroke="#111" stroke-width="1.2" />
<line x1="94.06" y1="559.5" x2="94.06" y2="563" stroke="#111" stroke-width="1.2" />
<line x1="106.30000000000001" y1="559.5" x2="106.30000000000001" y2="563" stroke="#111" stroke-width="1.2" />
<line x1="118.53999999999999" y1="559.5" x2="118.53999999999999" y2="563" stroke="#111" stroke-width="1.2" />
<line x1="191.98" y1="559.5" x2="191.98" y2="563" stroke="#111" stroke-width="1.2" />
<text transform="translate(45.10,579.90)" font-size="9.4" text-anchor="middle" font-weight="normal" fill="#1a1a1a" stroke="#1a1a1a" stroke-width="0.18" >0</text>
<text transform="translate(69.58,579.90)" font-size="9.4" text-anchor="middle" font-weight="normal" fill="#1a1a1a" stroke="#1a1a1a" stroke-width="0.18" >8</text>
<text transform="translate(94.16,579.90)" font-size="9.4" text-anchor="middle" font-weight="normal" fill="#1a1a1a" stroke="#1a1a1a" stroke-width="0.18" >16</text>
<text transform="translate(106.30,579.90)" font-size="9.4" text-anchor="middle" font-weight="normal" fill="#1a1a1a" stroke="#1a1a1a" stroke-width="0.18" >20</text>
<text transform="translate(118.24,579.90)" font-size="9.4" text-anchor="middle" font-weight="normal" fill="#1a1a1a" stroke="#1a1a1a" stroke-width="0.18" >24</text>
<text transform="translate(191.98,579.90)" font-size="9.4" text-anchor="middle" font-weight="normal" fill="#1a1a1a" stroke="#1a1a1a" stroke-width="0.18" >48</text>
<text transform="translate(3.20,579.00)" font-size="9.6" text-anchor="start" font-weight="normal" fill="#1a1a1a" stroke="#1a1a1a" stroke-width="0.18" >PD (h)</text>
<text transform="translate(16.60,511.00) rotate(-90) scale(1.0,1.12)" font-size="10.2" text-anchor="middle" font-weight="normal" fill="#1a1a1a" stroke="#1a1a1a" stroke-width="0.18" >NES</text>
<polyline points="45.1,467.7 69.6,501.6 94.1,524.3 106.3,524.3 118.5,525.1 192.0,507.9" fill="none" stroke="#111" stroke-width="1.6" stroke-dasharray="5.5,2.6,1.3,2.6"/>
<polyline points="45.1,467.7 69.6,520.8 94.1,530.6 106.3,531.3 118.5,532.1 192.0,517.1" fill="none" stroke="#111" stroke-width="1.6"/>
<path d="M45.1,465.09999999999997 L47.7,469.78 L42.5,469.78 Z" fill="#111"/>
<path d="M69.58,499.032 L72.17999999999999,503.712 L66.98,503.712 Z" fill="#111"/>
<path d="M94.06,521.7365 L96.66,526.4165 L91.46000000000001,526.4165 Z" fill="#111"/>
<path d="M106.30000000000001,521.7365 L108.9,526.4165 L103.70000000000002,526.4165 Z" fill="#111"/>
<path d="M118.53999999999999,522.485 L121.13999999999999,527.1650000000001 L115.94,527.1650000000001 Z" fill="#111"/>
<path d="M191.98,505.2695 L194.57999999999998,509.9495 L189.38,509.9495 Z" fill="#111"/>
<path d="M42.5,465.09999999999997 L47.7,470.3 M42.5,470.3 L47.7,465.09999999999997" stroke="#111" stroke-width="1.5"/>
<path d="M66.98,518.2434999999999 L72.17999999999999,523.4435 M66.98,523.4435 L72.17999999999999,518.2434999999999" stroke="#111" stroke-width="1.5"/>
<path d="M91.46000000000001,527.9739999999999 L96.66,533.174 M91.46000000000001,533.174 L96.66,527.9739999999999" stroke="#111" stroke-width="1.5"/>
<path d="M103.70000000000002,528.7225 L108.9,533.9225 M103.70000000000002,533.9225 L108.9,528.7225" stroke="#111" stroke-width="1.5"/>
<path d="M115.94,529.471 L121.13999999999999,534.671 M115.94,534.671 L121.13999999999999,529.471" stroke="#111" stroke-width="1.5"/>
<path d="M189.38,514.501 L194.57999999999998,519.701 M189.38,519.701 L194.57999999999998,514.501" stroke="#111" stroke-width="1.5"/>
<line x1="52.2" y1="443.4" x2="70.7" y2="443.4" stroke="#111" stroke-width="1.3" stroke-dasharray="1.3,4.6,6.6,4.6,1.4"/>
<path d="M61.8,440.59999999999997 L64.39999999999999,445.28 L59.199999999999996,445.28 Z" fill="#111"/>
<line x1="52.2" y1="459.2" x2="71.6" y2="459.2" stroke="#111" stroke-width="1.8" />
<path d="M59.199999999999996,456.59999999999997 L64.39999999999999,461.8 M59.199999999999996,461.8 L64.39999999999999,456.59999999999997" stroke="#111" stroke-width="1.5"/>
<text transform="translate(81.90,446.00)" font-size="7" text-anchor="start" font-weight="normal" fill="#1a1a1a" stroke="#1a1a1a" stroke-width="0.18" >KEGG cell cycle</text>
<text transform="translate(81.90,461.60)" font-size="7" text-anchor="start" font-weight="normal" fill="#1a1a1a" stroke="#1a1a1a" stroke-width="0.18" >GOBP positive regulation of cell cycle</text>
<line x1="281.4" y1="558.6" x2="281.4" y2="562.6" stroke="#111" stroke-width="1.3" />
<text transform="translate(281.40,575.90) scale(1.0,1.12)" font-size="9.6" text-anchor="middle" font-weight="normal" fill="#1a1a1a" stroke="#1a1a1a" stroke-width="0.18" >0</text>
<rect x="267.60" y="526.55" width="8.40" height="32.05" fill="#ffffff" stroke="#111" stroke-width="1.3"/>
<line x1="271.8" y1="526.5492" x2="271.8" y2="520.1808" stroke="#111" stroke-width="1.1" />
<line x1="269.2" y1="520.1808" x2="274.40000000000003" y2="520.1808" stroke="#111" stroke-width="1.1" />
<circle cx="271.8" cy="520.2" r="1.9" fill="#fff" stroke="#111" stroke-width="1"/>
<circle cx="269.3" cy="528.6" r="1.9" fill="#fff" stroke="#111" stroke-width="1"/>
<circle cx="274.3" cy="529.8" r="1.9" fill="#fff" stroke="#111" stroke-width="1"/>
<rect x="277.20" y="515.80" width="8.40" height="42.80" fill="#a3a3a3" stroke="#111" stroke-width="1.3"/>
<line x1="281.40000000000003" y1="515.796" x2="281.40000000000003" y2="511.4112" stroke="#111" stroke-width="1.1" />
<line x1="278.8" y1="511.4112" x2="284.00000000000006" y2="511.4112" stroke="#111" stroke-width="1.1" />
<path d="M281.4,509.3 l2,3.5 l-4,0 Z" fill="#fff" stroke="#111" stroke-width="1"/>
<path d="M278.9,511.1 l2,3.5 l-4,0 Z" fill="#fff" stroke="#111" stroke-width="1"/>
<path d="M283.9,518.4 l2,3.5 l-4,0 Z" fill="#fff" stroke="#111" stroke-width="1"/>
<rect x="286.80" y="528.32" width="8.40" height="30.28" fill="#5c5c5c" stroke="#111" stroke-width="1.3"/>
<line x1="291.0" y1="528.3240000000001" x2="291.0" y2="526.758" stroke="#111" stroke-width="1.1" />
<line x1="288.4" y1="526.758" x2="293.6" y2="526.758" stroke="#111" stroke-width="1.1" />
<rect x="289.4" y="525.2" width="3.2" height="3.2" fill="#fff" stroke="#111" stroke-width="1"/>
<rect x="286.9" y="527.2" width="3.2" height="3.2" fill="#fff" stroke="#111" stroke-width="1"/>
<rect x="291.9" y="528.3" width="3.2" height="3.2" fill="#fff" stroke="#111" stroke-width="1"/>
<line x1="320.54999999999995" y1="558.6" x2="320.54999999999995" y2="562.6" stroke="#111" stroke-width="1.3" />
<text transform="translate(320.55,575.90) scale(1.0,1.12)" font-size="9.6" text-anchor="middle" font-weight="normal" fill="#1a1a1a" stroke="#1a1a1a" stroke-width="0.18" >8</text>
<rect x="306.75" y="481.34" width="8.40" height="77.26" fill="#ffffff" stroke="#111" stroke-width="1.3"/>
<line x1="310.95" y1="481.34400000000005" x2="310.95" y2="476.124" stroke="#111" stroke-width="1.1" />
<line x1="308.34999999999997" y1="476.124" x2="313.55" y2="476.124" stroke="#111" stroke-width="1.1" />
<circle cx="310.9" cy="476.1" r="1.9" fill="#fff" stroke="#111" stroke-width="1"/>
<circle cx="308.4" cy="478.2" r="1.9" fill="#fff" stroke="#111" stroke-width="1"/>
<circle cx="313.4" cy="488.7" r="1.9" fill="#fff" stroke="#111" stroke-width="1"/>
<rect x="316.35" y="542.10" width="8.40" height="16.50" fill="#a3a3a3" stroke="#111" stroke-width="1.3"/>
<line x1="320.55" y1="542.1048000000001" x2="320.55" y2="540.852" stroke="#111" stroke-width="1.1" />
<line x1="317.95" y1="540.852" x2="323.15000000000003" y2="540.852" stroke="#111" stroke-width="1.1" />
<path d="M320.6,538.8 l2,3.5 l-4,0 Z" fill="#fff" stroke="#111" stroke-width="1"/>
<path d="M318.1,539.3 l2,3.5 l-4,0 Z" fill="#fff" stroke="#111" stroke-width="1"/>
<path d="M323.1,542.9 l2,3.5 l-4,0 Z" fill="#fff" stroke="#111" stroke-width="1"/>
<rect x="325.95" y="548.37" width="8.40" height="10.23" fill="#5c5c5c" stroke="#111" stroke-width="1.3"/>
<line x1="330.15" y1="548.3688" x2="330.15" y2="544.506" stroke="#111" stroke-width="1.1" />
<line x1="327.54999999999995" y1="544.506" x2="332.75" y2="544.506" stroke="#111" stroke-width="1.1" />
<rect x="328.5" y="542.9" width="3.2" height="3.2" fill="#fff" stroke="#111" stroke-width="1"/>
<rect x="326.0" y="547.6" width="3.2" height="3.2" fill="#fff" stroke="#111" stroke-width="1"/>
<rect x="331.0" y="549.7" width="3.2" height="3.2" fill="#fff" stroke="#111" stroke-width="1"/>
<line x1="359.7" y1="558.6" x2="359.7" y2="562.6" stroke="#111" stroke-width="1.3" />
<text transform="translate(359.70,575.90) scale(1.0,1.12)" font-size="9.6" text-anchor="middle" font-weight="normal" fill="#1a1a1a" stroke="#1a1a1a" stroke-width="0.18" >24</text>
<rect x="345.90" y="466.31" width="8.40" height="92.29" fill="#ffffff" stroke="#111" stroke-width="1.3"/>
<line x1="350.1" y1="466.3104" x2="350.1" y2="457.332" stroke="#111" stroke-width="1.1" />
<line x1="347.5" y1="457.332" x2="352.70000000000005" y2="457.332" stroke="#111" stroke-width="1.1" />
<circle cx="350.1" cy="457.3" r="1.9" fill="#fff" stroke="#111" stroke-width="1"/>
<circle cx="347.6" cy="467.8" r="1.9" fill="#fff" stroke="#111" stroke-width="1"/>
<circle cx="352.6" cy="467.8" r="1.9" fill="#fff" stroke="#111" stroke-width="1"/>
<rect x="355.50" y="550.25" width="8.40" height="8.35" fill="#a3a3a3" stroke="#111" stroke-width="1.3"/>
<line x1="359.70000000000005" y1="550.248" x2="359.70000000000005" y2="549.2040000000001" stroke="#111" stroke-width="1.1" />
<line x1="357.1" y1="549.2040000000001" x2="362.30000000000007" y2="549.2040000000001" stroke="#111" stroke-width="1.1" />
<path d="M359.7,547.1 l2,3.5 l-4,0 Z" fill="#fff" stroke="#111" stroke-width="1"/>
<path d="M357.2,549.2 l2,3.5 l-4,0 Z" fill="#fff" stroke="#111" stroke-width="1"/>
<path d="M362.2,551.3 l2,3.5 l-4,0 Z" fill="#fff" stroke="#111" stroke-width="1"/>
<rect x="365.10" y="552.02" width="8.40" height="6.58" fill="#5c5c5c" stroke="#111" stroke-width="1.3"/>
<rect x="367.7" y="549.7" width="3.2" height="3.2" fill="#fff" stroke="#111" stroke-width="1"/>
<rect x="365.2" y="550.7" width="3.2" height="3.2" fill="#fff" stroke="#111" stroke-width="1"/>
<rect x="370.2" y="551.8" width="3.2" height="3.2" fill="#fff" stroke="#111" stroke-width="1"/>
<line x1="398.84999999999997" y1="558.6" x2="398.84999999999997" y2="562.6" stroke="#111" stroke-width="1.3" />
<text transform="translate(398.85,575.90) scale(1.0,1.12)" font-size="9.6" text-anchor="middle" font-weight="normal" fill="#1a1a1a" stroke="#1a1a1a" stroke-width="0.18" >48</text>
<rect x="385.05" y="485.94" width="8.40" height="72.66" fill="#ffffff" stroke="#111" stroke-width="1.3"/>
<line x1="389.25" y1="485.93760000000003" x2="389.25" y2="484.99800000000005" stroke="#111" stroke-width="1.1" />
<line x1="386.65" y1="484.99800000000005" x2="391.85" y2="484.99800000000005" stroke="#111" stroke-width="1.1" />
<circle cx="389.2" cy="485.0" r="1.9" fill="#fff" stroke="#111" stroke-width="1"/>
<circle cx="386.8" cy="485.5" r="1.9" fill="#fff" stroke="#111" stroke-width="1"/>
<circle cx="391.8" cy="486.6" r="1.9" fill="#fff" stroke="#111" stroke-width="1"/>
<rect x="394.65" y="536.15" width="8.40" height="22.45" fill="#a3a3a3" stroke="#111" stroke-width="1.3"/>
<line x1="398.85" y1="536.154" x2="398.85" y2="533.022" stroke="#111" stroke-width="1.1" />
<line x1="396.25" y1="533.022" x2="401.45000000000005" y2="533.022" stroke="#111" stroke-width="1.1" />
<path d="M398.9,530.9 l2,3.5 l-4,0 Z" fill="#fff" stroke="#111" stroke-width="1"/>
<path d="M396.4,534.6 l2,3.5 l-4,0 Z" fill="#fff" stroke="#111" stroke-width="1"/>
<path d="M401.4,535.6 l2,3.5 l-4,0 Z" fill="#fff" stroke="#111" stroke-width="1"/>
<rect x="404.25" y="546.39" width="8.40" height="12.21" fill="#5c5c5c" stroke="#111" stroke-width="1.3"/>
<line x1="408.45" y1="546.3852" x2="408.45" y2="544.506" stroke="#111" stroke-width="1.1" />
<line x1="405.84999999999997" y1="544.506" x2="411.05" y2="544.506" stroke="#111" stroke-width="1.1" />
<rect x="406.8" y="542.9" width="3.2" height="3.2" fill="#fff" stroke="#111" stroke-width="1"/>
<rect x="404.3" y="545.5" width="3.2" height="3.2" fill="#fff" stroke="#111" stroke-width="1"/>
<rect x="409.3" y="545.5" width="3.2" height="3.2" fill="#fff" stroke="#111" stroke-width="1"/>
<line x1="262.6" y1="453.6" x2="262.6" y2="559.3000000000001" stroke="#111" stroke-width="1.5" />
<line x1="261.90000000000003" y1="558.6" x2="418.3" y2="558.6" stroke="#111" stroke-width="1.5" />
<line x1="258.6" y1="558.6" x2="262.6" y2="558.6" stroke="#111" stroke-width="1.3" />
<text transform="translate(256.30,562.00) scale(1.0,1.15)" font-size="9.6" text-anchor="end" font-weight="normal" fill="#1a1a1a" stroke="#1a1a1a" stroke-width="0.18" >0</text>
<line x1="258.6" y1="506.40000000000003" x2="262.6" y2="506.40000000000003" stroke="#111" stroke-width="1.3" />
<text transform="translate(256.30,509.80) scale(1.0,1.15)" font-size="9.6" text-anchor="end" font-weight="normal" fill="#1a1a1a" stroke="#1a1a1a" stroke-width="0.18" >50</text>
<line x1="258.6" y1="454.20000000000005" x2="262.6" y2="454.20000000000005" stroke="#111" stroke-width="1.3" />
<text transform="translate(256.30,457.60) scale(1.0,1.15)" font-size="9.6" text-anchor="end" font-weight="normal" fill="#1a1a1a" stroke="#1a1a1a" stroke-width="0.18" >100</text>
<text transform="translate(231.30,575.20)" font-size="9.8" text-anchor="start" font-weight="normal" fill="#1a1a1a" stroke="#1a1a1a" stroke-width="0.18" >PD (h)</text>
<text transform="translate(235.20,503.20) rotate(-90) scale(1.0,1.15)" font-size="9.9" text-anchor="middle" font-weight="normal" fill="#1a1a1a" stroke="#1a1a1a" stroke-width="0.18" >Cell cycle distribution (%)</text>
<text transform="translate(334.00,421.00) scale(1.0,1.12)" font-size="8.0" text-anchor="start" font-weight="normal" fill="#1a1a1a" stroke="#1a1a1a" stroke-width="0.18" >T24</text>
<rect x="399.8" y="437.6" width="6.6" height="6.6" fill="#ffffff" stroke="#111" stroke-width="1"/>
<text transform="translate(410.80,444.30) scale(1.0,1.05)" font-size="9.2" text-anchor="start" font-weight="normal" fill="#1a1a1a" stroke="#1a1a1a" stroke-width="0.18" >G0/G1</text>
<rect x="399.8" y="449.8" width="6.6" height="6.6" fill="#a3a3a3" stroke="#111" stroke-width="1"/>
<text transform="translate(410.80,456.50) scale(1.0,1.05)" font-size="9.2" text-anchor="start" font-weight="normal" fill="#1a1a1a" stroke="#1a1a1a" stroke-width="0.18" >S</text>
<rect x="399.8" y="462.0" width="6.6" height="6.6" fill="#5c5c5c" stroke="#111" stroke-width="1"/>
<text transform="translate(410.80,468.70) scale(1.0,1.05)" font-size="9.2" text-anchor="start" font-weight="normal" fill="#1a1a1a" stroke="#1a1a1a" stroke-width="0.18" >G2/M</text>
<line x1="521.9" y1="560.2" x2="521.9" y2="564.2" stroke="#111" stroke-width="1.3" />
<text transform="translate(521.90,577.50) scale(1.0,1.12)" font-size="9.6" text-anchor="middle" font-weight="normal" fill="#1a1a1a" stroke="#1a1a1a" stroke-width="0.18" >0</text>
<rect x="508.25" y="532.96" width="8.30" height="27.24" fill="#ffffff" stroke="#111" stroke-width="1.3"/>
<line x1="512.4" y1="532.9580000000001" x2="512.4" y2="531.9300000000001" stroke="#111" stroke-width="1.1" />
<line x1="509.79999999999995" y1="531.9300000000001" x2="515.0" y2="531.9300000000001" stroke="#111" stroke-width="1.1" />
<circle cx="512.4" cy="531.9" r="1.9" fill="#fff" stroke="#111" stroke-width="1"/>
<circle cx="509.9" cy="532.4" r="1.9" fill="#fff" stroke="#111" stroke-width="1"/>
<circle cx="514.9" cy="534.0" r="1.9" fill="#fff" stroke="#111" stroke-width="1"/>
<rect x="517.75" y="499.34" width="8.30" height="60.86" fill="#a3a3a3" stroke="#111" stroke-width="1.3"/>
<line x1="521.9" y1="499.34240000000005" x2="521.9" y2="495.43600000000004" stroke="#111" stroke-width="1.1" />
<line x1="519.3" y1="495.43600000000004" x2="524.5" y2="495.43600000000004" stroke="#111" stroke-width="1.1" />
<path d="M521.9,493.3 l2,3.5 l-4,0 Z" fill="#fff" stroke="#111" stroke-width="1"/>
<path d="M519.4,496.4 l2,3.5 l-4,0 Z" fill="#fff" stroke="#111" stroke-width="1"/>
<path d="M524.4,499.5 l2,3.5 l-4,0 Z" fill="#fff" stroke="#111" stroke-width="1"/>
<rect x="527.25" y="545.40" width="8.30" height="14.80" fill="#5c5c5c" stroke="#111" stroke-width="1.3"/>
<line x1="531.4" y1="545.3968000000001" x2="531.4" y2="543.7520000000001" stroke="#111" stroke-width="1.1" />
<line x1="528.8" y1="543.7520000000001" x2="534.0" y2="543.7520000000001" stroke="#111" stroke-width="1.1" />
<rect x="529.8" y="542.2" width="3.2" height="3.2" fill="#fff" stroke="#111" stroke-width="1"/>
<rect x="527.3" y="543.7" width="3.2" height="3.2" fill="#fff" stroke="#111" stroke-width="1"/>
<rect x="532.3" y="544.7" width="3.2" height="3.2" fill="#fff" stroke="#111" stroke-width="1"/>
<line x1="560.25" y1="560.2" x2="560.25" y2="564.2" stroke="#111" stroke-width="1.3" />
<text transform="translate(560.25,577.50) scale(1.0,1.12)" font-size="9.6" text-anchor="middle" font-weight="normal" fill="#1a1a1a" stroke="#1a1a1a" stroke-width="0.18" >8</text>
<rect x="546.60" y="497.70" width="8.30" height="62.50" fill="#ffffff" stroke="#111" stroke-width="1.3"/>
<line x1="550.75" y1="497.6976" x2="550.75" y2="490.29600000000005" stroke="#111" stroke-width="1.1" />
<line x1="548.15" y1="490.29600000000005" x2="553.35" y2="490.29600000000005" stroke="#111" stroke-width="1.1" />
<circle cx="550.8" cy="490.3" r="1.9" fill="#fff" stroke="#111" stroke-width="1"/>
<circle cx="548.2" cy="492.4" r="1.9" fill="#fff" stroke="#111" stroke-width="1"/>
<circle cx="553.2" cy="505.7" r="1.9" fill="#fff" stroke="#111" stroke-width="1"/>
<rect x="556.10" y="534.29" width="8.30" height="25.91" fill="#a3a3a3" stroke="#111" stroke-width="1.3"/>
<line x1="560.25" y1="534.2944" x2="560.25" y2="525.248" stroke="#111" stroke-width="1.1" />
<line x1="557.65" y1="525.248" x2="562.85" y2="525.248" stroke="#111" stroke-width="1.1" />
<path d="M560.2,523.1 l2,3.5 l-4,0 Z" fill="#fff" stroke="#111" stroke-width="1"/>
<path d="M557.8,535.5 l2,3.5 l-4,0 Z" fill="#fff" stroke="#111" stroke-width="1"/>
<path d="M562.8,537.5 l2,3.5 l-4,0 Z" fill="#fff" stroke="#111" stroke-width="1"/>
<rect x="565.60" y="543.24" width="8.30" height="16.96" fill="#5c5c5c" stroke="#111" stroke-width="1.3"/>
<rect x="568.1" y="541.6" width="3.2" height="3.2" fill="#fff" stroke="#111" stroke-width="1"/>
<rect x="565.6" y="542.2" width="3.2" height="3.2" fill="#fff" stroke="#111" stroke-width="1"/>
<rect x="570.6" y="546.3" width="3.2" height="3.2" fill="#fff" stroke="#111" stroke-width="1"/>
<line x1="598.6" y1="560.2" x2="598.6" y2="564.2" stroke="#111" stroke-width="1.3" />
<text transform="translate(598.60,577.50) scale(1.0,1.12)" font-size="9.6" text-anchor="middle" font-weight="normal" fill="#1a1a1a" stroke="#1a1a1a" stroke-width="0.18" >24</text>
<rect x="584.95" y="467.47" width="8.30" height="92.73" fill="#ffffff" stroke="#111" stroke-width="1.3"/>
<line x1="589.1" y1="467.47440000000006" x2="589.1" y2="461.51200000000006" stroke="#111" stroke-width="1.1" />
<line x1="586.5" y1="461.51200000000006" x2="591.7" y2="461.51200000000006" stroke="#111" stroke-width="1.1" />
<circle cx="589.1" cy="461.5" r="1.9" fill="#fff" stroke="#111" stroke-width="1"/>
<circle cx="586.6" cy="469.7" r="1.9" fill="#fff" stroke="#111" stroke-width="1"/>
<circle cx="591.6" cy="471.8" r="1.9" fill="#fff" stroke="#111" stroke-width="1"/>
<rect x="594.45" y="555.06" width="8.30" height="5.14" fill="#a3a3a3" stroke="#111" stroke-width="1.3"/>
<path d="M598.6,553.0 l2,3.5 l-4,0 Z" fill="#fff" stroke="#111" stroke-width="1"/>
<path d="M596.1,554.0 l2,3.5 l-4,0 Z" fill="#fff" stroke="#111" stroke-width="1"/>
<path d="M601.1,555.0 l2,3.5 l-4,0 Z" fill="#fff" stroke="#111" stroke-width="1"/>
<rect x="603.95" y="554.03" width="8.30" height="6.17" fill="#5c5c5c" stroke="#111" stroke-width="1.3"/>
<line x1="608.1" y1="554.032" x2="608.1" y2="549.9200000000001" stroke="#111" stroke-width="1.1" />
<line x1="605.5" y1="549.9200000000001" x2="610.7" y2="549.9200000000001" stroke="#111" stroke-width="1.1" />
<rect x="606.5" y="548.3" width="3.2" height="3.2" fill="#fff" stroke="#111" stroke-width="1"/>
<rect x="604.0" y="549.3" width="3.2" height="3.2" fill="#fff" stroke="#111" stroke-width="1"/>
<rect x="609.0" y="556.5" width="3.2" height="3.2" fill="#fff" stroke="#111" stroke-width="1"/>
<line x1="636.95" y1="560.2" x2="636.95" y2="564.2" stroke="#111" stroke-width="1.3" />
<text transform="translate(636.95,577.50) scale(1.0,1.12)" font-size="9.6" text-anchor="middle" font-weight="normal" fill="#1a1a1a" stroke="#1a1a1a" stroke-width="0.18" >48</text>
<rect x="623.30" y="486.90" width="8.30" height="73.30" fill="#ffffff" stroke="#111" stroke-width="1.3"/>
<line x1="627.45" y1="486.90360000000004" x2="627.45" y2="483.61400000000003" stroke="#111" stroke-width="1.1" />
<line x1="624.85" y1="483.61400000000003" x2="630.0500000000001" y2="483.61400000000003" stroke="#111" stroke-width="1.1" />
<circle cx="627.5" cy="483.6" r="1.9" fill="#fff" stroke="#111" stroke-width="1"/>
<circle cx="625.0" cy="486.2" r="1.9" fill="#fff" stroke="#111" stroke-width="1"/>
<circle cx="630.0" cy="488.2" r="1.9" fill="#fff" stroke="#111" stroke-width="1"/>
<rect x="632.80" y="542.72" width="8.30" height="17.48" fill="#a3a3a3" stroke="#111" stroke-width="1.3"/>
<line x1="636.95" y1="542.724" x2="636.95" y2="541.696" stroke="#111" stroke-width="1.1" />
<line x1="634.35" y1="541.696" x2="639.5500000000001" y2="541.696" stroke="#111" stroke-width="1.1" />
<path d="M637.0,539.6 l2,3.5 l-4,0 Z" fill="#fff" stroke="#111" stroke-width="1"/>
<path d="M634.5,540.6 l2,3.5 l-4,0 Z" fill="#fff" stroke="#111" stroke-width="1"/>
<path d="M639.5,541.7 l2,3.5 l-4,0 Z" fill="#fff" stroke="#111" stroke-width="1"/>
<rect x="642.30" y="546.22" width="8.30" height="13.98" fill="#5c5c5c" stroke="#111" stroke-width="1.3"/>
<line x1="646.45" y1="546.2192" x2="646.45" y2="545.2940000000001" stroke="#111" stroke-width="1.1" />
<line x1="643.85" y1="545.2940000000001" x2="649.0500000000001" y2="545.2940000000001" stroke="#111" stroke-width="1.1" />
<rect x="644.9" y="543.7" width="3.2" height="3.2" fill="#fff" stroke="#111" stroke-width="1"/>
<rect x="642.4" y="544.7" width="3.2" height="3.2" fill="#fff" stroke="#111" stroke-width="1"/>
<rect x="647.4" y="546.3" width="3.2" height="3.2" fill="#fff" stroke="#111" stroke-width="1"/>
<line x1="502.2" y1="456.8" x2="502.2" y2="560.9000000000001" stroke="#111" stroke-width="1.5" />
<line x1="501.5" y1="560.2" x2="656.4" y2="560.2" stroke="#111" stroke-width="1.5" />
<line x1="498.2" y1="560.2" x2="502.2" y2="560.2" stroke="#111" stroke-width="1.3" />
<text transform="translate(495.90,563.60) scale(1.0,1.15)" font-size="9.6" text-anchor="end" font-weight="normal" fill="#1a1a1a" stroke="#1a1a1a" stroke-width="0.18" >0</text>
<line x1="498.2" y1="508.80000000000007" x2="502.2" y2="508.80000000000007" stroke="#111" stroke-width="1.3" />
<text transform="translate(495.90,512.20) scale(1.0,1.15)" font-size="9.6" text-anchor="end" font-weight="normal" fill="#1a1a1a" stroke="#1a1a1a" stroke-width="0.18" >50</text>
<line x1="498.2" y1="457.40000000000003" x2="502.2" y2="457.40000000000003" stroke="#111" stroke-width="1.3" />
<text transform="translate(495.90,460.80) scale(1.0,1.15)" font-size="9.6" text-anchor="end" font-weight="normal" fill="#1a1a1a" stroke="#1a1a1a" stroke-width="0.18" >100</text>
<text transform="translate(470.90,576.80)" font-size="9.8" text-anchor="start" font-weight="normal" fill="#1a1a1a" stroke="#1a1a1a" stroke-width="0.18" >PD (h)</text>
<text transform="translate(474.80,504.80) rotate(-90) scale(1.0,1.15)" font-size="9.9" text-anchor="middle" font-weight="normal" fill="#1a1a1a" stroke="#1a1a1a" stroke-width="0.18" >Cell cycle distribution (%)</text>
<text transform="translate(567.40,423.80) scale(1.0,1.12)" font-size="8.0" text-anchor="start" font-weight="normal" fill="#1a1a1a" stroke="#1a1a1a" stroke-width="0.18" >RT112</text>
<rect x="637.8" y="438.1" width="6.6" height="6.6" fill="#ffffff" stroke="#111" stroke-width="1"/>
<text transform="translate(648.80,444.80) scale(1.0,1.05)" font-size="9.2" text-anchor="start" font-weight="normal" fill="#1a1a1a" stroke="#1a1a1a" stroke-width="0.18" >G0/G1</text>
<rect x="637.8" y="450.0" width="6.6" height="6.6" fill="#a3a3a3" stroke="#111" stroke-width="1"/>
<text transform="translate(648.80,456.70) scale(1.0,1.05)" font-size="9.2" text-anchor="start" font-weight="normal" fill="#1a1a1a" stroke="#1a1a1a" stroke-width="0.18" >S</text>
<rect x="637.8" y="461.9" width="6.6" height="6.6" fill="#5c5c5c" stroke="#111" stroke-width="1"/>
<text transform="translate(648.80,468.60) scale(1.0,1.05)" font-size="9.2" text-anchor="start" font-weight="normal" fill="#1a1a1a" stroke="#1a1a1a" stroke-width="0.18" >G2/M</text>
</svg></body></html>
